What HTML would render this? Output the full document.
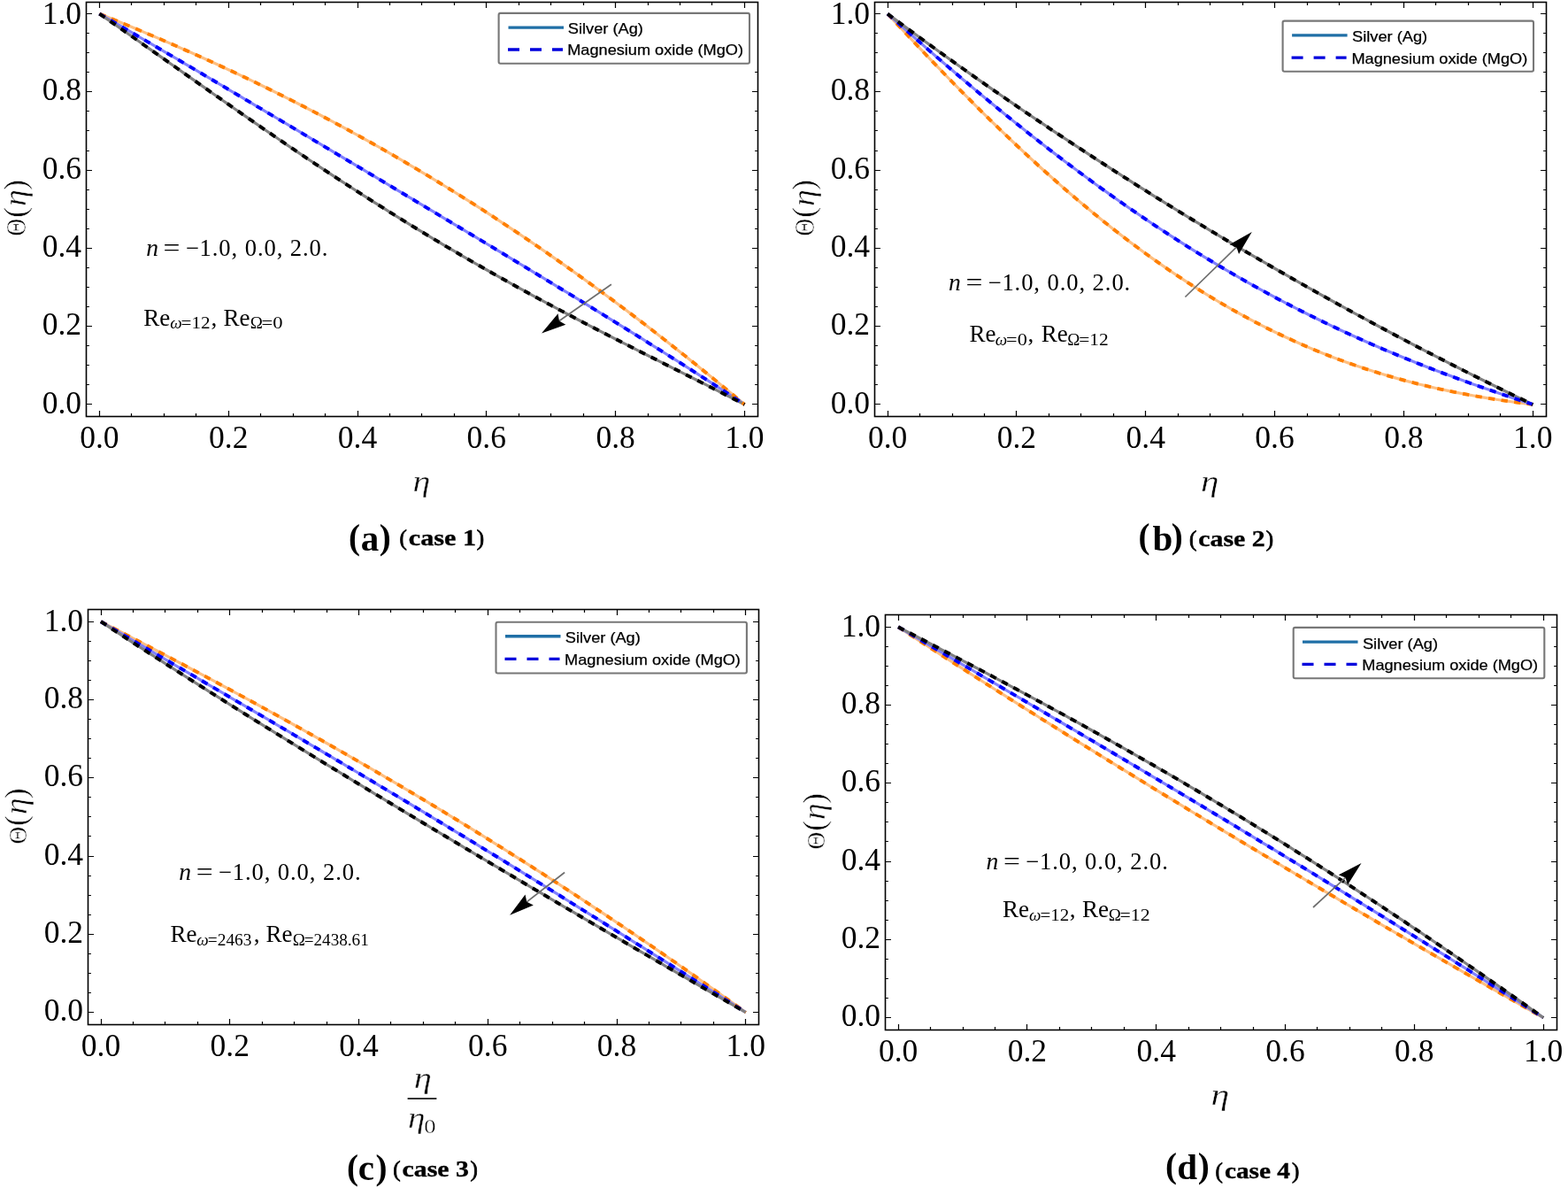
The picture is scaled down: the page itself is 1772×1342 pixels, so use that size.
<!DOCTYPE html>
<html><head><meta charset="utf-8"><style>html,body{margin:0;padding:0;background:#fff;width:1772px;height:1342px;overflow:hidden}svg{display:block}</style></head><body>
<svg width="1772" height="1342" viewBox="0 0 1772 1342">
<style>text{font-family:'Liberation Serif', 'Times New Roman', serif;fill:#000;font-kerning:none}.tl{font-size:35.5px}.lgt{stroke:#000;stroke-width:0.25px}.thin text{stroke:#fff;stroke-width:0.55px}.thin2 text{stroke:#fff;stroke-width:0.4px}</style>
<rect width="1772" height="1342" fill="#fff"/>
<path d="M112.5,470.5v-6.5M112.5,2.5v6.5M97.5,456.5h6.5M856.5,456.5h-6.5M148.5,470.5v-3.4M148.5,2.5v3.4M97.5,434.5h3.4M856.5,434.5h-3.4M185.5,470.5v-3.4M185.5,2.5v3.4M97.5,412.5h3.4M856.5,412.5h-3.4M221.5,470.5v-3.4M221.5,2.5v3.4M97.5,390.5h3.4M856.5,390.5h-3.4M258.5,470.5v-6.5M258.5,2.5v6.5M97.5,368.5h6.5M856.5,368.5h-6.5M294.5,470.5v-3.4M294.5,2.5v3.4M97.5,346.5h3.4M856.5,346.5h-3.4M331.5,470.5v-3.4M331.5,2.5v3.4M97.5,324.5h3.4M856.5,324.5h-3.4M367.5,470.5v-3.4M367.5,2.5v3.4M97.5,302.5h3.4M856.5,302.5h-3.4M404.5,470.5v-6.5M404.5,2.5v6.5M97.5,280.5h6.5M856.5,280.5h-6.5M440.5,470.5v-3.4M440.5,2.5v3.4M97.5,258.5h3.4M856.5,258.5h-3.4M476.5,470.5v-3.4M476.5,2.5v3.4M97.5,236.5h3.4M856.5,236.5h-3.4M513.5,470.5v-3.4M513.5,2.5v3.4M97.5,214.5h3.4M856.5,214.5h-3.4M549.5,470.5v-6.5M549.5,2.5v6.5M97.5,192.5h6.5M856.5,192.5h-6.5M586.5,470.5v-3.4M586.5,2.5v3.4M97.5,170.5h3.4M856.5,170.5h-3.4M622.5,470.5v-3.4M622.5,2.5v3.4M97.5,147.5h3.4M856.5,147.5h-3.4M659.5,470.5v-3.4M659.5,2.5v3.4M97.5,125.5h3.4M856.5,125.5h-3.4M695.5,470.5v-6.5M695.5,2.5v6.5M97.5,103.5h6.5M856.5,103.5h-6.5M732.5,470.5v-3.4M732.5,2.5v3.4M97.5,81.5h3.4M856.5,81.5h-3.4M768.5,470.5v-3.4M768.5,2.5v3.4M97.5,59.5h3.4M804.5,470.5v-3.4M804.5,2.5v3.4M97.5,37.5h3.4M841.5,470.5v-6.5M841.5,2.5v6.5M97.5,15.5h6.5" stroke="#000" stroke-width="1.2" fill="none"/>
<path d="M112.4,15.6 L118.48,18.06 L124.55,20.53 L130.62,23.01 L136.7,25.5 L142.78,28.01 L148.85,30.54 L154.93,33.07 L161,35.63 L167.07,38.19 L173.15,40.78 L179.22,43.38 L185.3,45.99 L191.38,48.62 L197.45,51.27 L203.53,53.93 L209.6,56.61 L215.68,59.31 L221.75,62.02 L227.82,64.75 L233.9,67.5 L239.97,70.27 L246.05,73.06 L252.13,75.86 L258.2,78.69 L264.27,81.53 L270.35,84.39 L276.43,87.28 L282.5,90.18 L288.58,93.1 L294.65,96.04 L300.73,99 L306.8,101.99 L312.88,104.99 L318.95,108.01 L325.02,111.06 L331.1,114.13 L337.18,117.21 L343.25,120.32 L349.33,123.46 L355.4,126.61 L361.48,129.78 L367.55,132.98 L373.62,136.2 L379.7,139.45 L385.77,142.71 L391.85,146 L397.92,149.31 L404,152.65 L410.08,156.01 L416.15,159.39 L422.23,162.79 L428.3,166.22 L434.38,169.67 L440.45,173.15 L446.52,176.65 L452.6,180.17 L458.67,183.72 L464.75,187.3 L470.82,190.89 L476.9,194.51 L482.98,198.16 L489.05,201.83 L495.12,205.52 L501.2,209.24 L507.27,212.99 L513.35,216.76 L519.43,220.55 L525.5,224.37 L531.57,228.21 L537.65,232.08 L543.73,235.97 L549.8,239.89 L555.88,243.83 L561.95,247.8 L568.02,251.8 L574.1,255.82 L580.18,259.86 L586.25,263.93 L592.33,268.02 L598.4,272.14 L604.48,276.28 L610.55,280.45 L616.62,284.65 L622.7,288.87 L628.77,293.11 L634.85,297.38 L640.92,301.67 L647,305.99 L653.08,310.34 L659.15,314.71 L665.22,319.1 L671.3,323.52 L677.38,327.96 L683.45,332.43 L689.52,336.92 L695.6,341.43 L701.67,345.98 L707.75,350.54 L713.82,355.13 L719.9,359.74 L725.98,364.38 L732.05,369.04 L738.12,373.73 L744.2,378.43 L750.27,383.17 L756.35,387.92 L762.43,392.7 L768.5,397.5 L774.57,402.33 L780.65,407.18 L786.73,412.05 L792.8,416.95 L798.88,421.86 L804.95,426.8 L811.02,431.76 L817.1,436.75 L823.17,441.75 L829.25,446.78 L835.33,451.83 L841.4,456.9" stroke="#ffbf80" stroke-width="3.2" fill="none" stroke-linejoin="round"/>
<path d="M112.4,15.6 L118.48,19.1 L124.55,22.62 L130.62,26.13 L136.7,29.66 L142.78,33.18 L148.85,36.72 L154.93,40.26 L161,43.8 L167.07,47.35 L173.15,50.9 L179.22,54.46 L185.3,58.02 L191.38,61.59 L197.45,65.16 L203.53,68.73 L209.6,72.31 L215.68,75.88 L221.75,79.47 L227.82,83.05 L233.9,86.64 L239.97,90.23 L246.05,93.83 L252.13,97.42 L258.2,101.02 L264.27,104.62 L270.35,108.23 L276.43,111.83 L282.5,115.44 L288.58,119.05 L294.65,122.66 L300.73,126.27 L306.8,129.88 L312.88,133.5 L318.95,137.11 L325.02,140.73 L331.1,144.35 L337.18,147.97 L343.25,151.59 L349.33,155.21 L355.4,158.83 L361.48,162.46 L367.55,166.08 L373.62,169.71 L379.7,173.33 L385.77,176.96 L391.85,180.59 L397.92,184.22 L404,187.84 L410.08,191.47 L416.15,195.11 L422.23,198.74 L428.3,202.37 L434.38,206 L440.45,209.64 L446.52,213.27 L452.6,216.91 L458.67,220.54 L464.75,224.18 L470.82,227.82 L476.9,231.46 L482.98,235.1 L489.05,238.74 L495.12,242.39 L501.2,246.03 L507.27,249.68 L513.35,253.32 L519.43,256.97 L525.5,260.62 L531.57,264.28 L537.65,267.93 L543.73,271.59 L549.8,275.25 L555.88,278.91 L561.95,282.57 L568.02,286.24 L574.1,289.91 L580.18,293.58 L586.25,297.25 L592.33,300.93 L598.4,304.61 L604.48,308.29 L610.55,311.98 L616.62,315.67 L622.7,319.37 L628.77,323.07 L634.85,326.77 L640.92,330.48 L647,334.19 L653.08,337.91 L659.15,341.63 L665.22,345.36 L671.3,349.09 L677.38,352.83 L683.45,356.58 L689.52,360.33 L695.6,364.09 L701.67,367.85 L707.75,371.62 L713.82,375.4 L719.9,379.19 L725.98,382.98 L732.05,386.78 L738.12,390.59 L744.2,394.41 L750.27,398.24 L756.35,402.07 L762.43,405.92 L768.5,409.77 L774.57,413.64 L780.65,417.51 L786.73,421.4 L792.8,425.3 L798.88,429.2 L804.95,433.12 L811.02,437.05 L817.1,441 L823.17,444.95 L829.25,448.92 L835.33,452.9 L841.4,456.9" stroke="#8080ff" stroke-width="3.2" fill="none" stroke-linejoin="round"/>
<path d="M112.4,15.6 L118.48,19.81 L124.55,24.03 L130.62,28.26 L136.7,32.5 L142.78,36.75 L148.85,41.01 L154.93,45.27 L161,49.54 L167.07,53.82 L173.15,58.1 L179.22,62.38 L185.3,66.67 L191.38,70.95 L197.45,75.24 L203.53,79.53 L209.6,83.82 L215.68,88.1 L221.75,92.38 L227.82,96.66 L233.9,100.93 L239.97,105.2 L246.05,109.47 L252.13,113.72 L258.2,117.97 L264.27,122.22 L270.35,126.45 L276.43,130.67 L282.5,134.89 L288.58,139.09 L294.65,143.29 L300.73,147.47 L306.8,151.64 L312.88,155.8 L318.95,159.95 L325.02,164.08 L331.1,168.2 L337.18,172.3 L343.25,176.39 L349.33,180.46 L355.4,184.52 L361.48,188.57 L367.55,192.59 L373.62,196.6 L379.7,200.59 L385.77,204.57 L391.85,208.53 L397.92,212.47 L404,216.39 L410.08,220.29 L416.15,224.18 L422.23,228.04 L428.3,231.89 L434.38,235.72 L440.45,239.53 L446.52,243.32 L452.6,247.09 L458.67,250.84 L464.75,254.57 L470.82,258.28 L476.9,261.98 L482.98,265.65 L489.05,269.3 L495.12,272.93 L501.2,276.55 L507.27,280.14 L513.35,283.71 L519.43,287.27 L525.5,290.8 L531.57,294.32 L537.65,297.82 L543.73,301.3 L549.8,304.76 L555.88,308.2 L561.95,311.62 L568.02,315.02 L574.1,318.41 L580.18,321.78 L586.25,325.13 L592.33,328.47 L598.4,331.79 L604.48,335.09 L610.55,338.38 L616.62,341.65 L622.7,344.9 L628.77,348.15 L634.85,351.37 L640.92,354.59 L647,357.79 L653.08,360.97 L659.15,364.15 L665.22,367.31 L671.3,370.46 L677.38,373.6 L683.45,376.73 L689.52,379.86 L695.6,382.97 L701.67,386.07 L707.75,389.17 L713.82,392.26 L719.9,395.34 L725.98,398.42 L732.05,401.49 L738.12,404.56 L744.2,407.62 L750.27,410.69 L756.35,413.75 L762.43,416.81 L768.5,419.87 L774.57,422.93 L780.65,425.99 L786.73,429.05 L792.8,432.12 L798.88,435.19 L804.95,438.27 L811.02,441.36 L817.1,444.45 L823.17,447.54 L829.25,450.65 L835.33,453.77 L841.4,456.9" stroke="#808080" stroke-width="3.2" fill="none" stroke-linejoin="round"/>
<path d="M112.4,15.6 L118.48,18.06 L124.55,20.53 L130.62,23.01 L136.7,25.5 L142.78,28.01 L148.85,30.54 L154.93,33.07 L161,35.63 L167.07,38.19 L173.15,40.78 L179.22,43.38 L185.3,45.99 L191.38,48.62 L197.45,51.27 L203.53,53.93 L209.6,56.61 L215.68,59.31 L221.75,62.02 L227.82,64.75 L233.9,67.5 L239.97,70.27 L246.05,73.06 L252.13,75.86 L258.2,78.69 L264.27,81.53 L270.35,84.39 L276.43,87.28 L282.5,90.18 L288.58,93.1 L294.65,96.04 L300.73,99 L306.8,101.99 L312.88,104.99 L318.95,108.01 L325.02,111.06 L331.1,114.13 L337.18,117.21 L343.25,120.32 L349.33,123.46 L355.4,126.61 L361.48,129.78 L367.55,132.98 L373.62,136.2 L379.7,139.45 L385.77,142.71 L391.85,146 L397.92,149.31 L404,152.65 L410.08,156.01 L416.15,159.39 L422.23,162.79 L428.3,166.22 L434.38,169.67 L440.45,173.15 L446.52,176.65 L452.6,180.17 L458.67,183.72 L464.75,187.3 L470.82,190.89 L476.9,194.51 L482.98,198.16 L489.05,201.83 L495.12,205.52 L501.2,209.24 L507.27,212.99 L513.35,216.76 L519.43,220.55 L525.5,224.37 L531.57,228.21 L537.65,232.08 L543.73,235.97 L549.8,239.89 L555.88,243.83 L561.95,247.8 L568.02,251.8 L574.1,255.82 L580.18,259.86 L586.25,263.93 L592.33,268.02 L598.4,272.14 L604.48,276.28 L610.55,280.45 L616.62,284.65 L622.7,288.87 L628.77,293.11 L634.85,297.38 L640.92,301.67 L647,305.99 L653.08,310.34 L659.15,314.71 L665.22,319.1 L671.3,323.52 L677.38,327.96 L683.45,332.43 L689.52,336.92 L695.6,341.43 L701.67,345.98 L707.75,350.54 L713.82,355.13 L719.9,359.74 L725.98,364.38 L732.05,369.04 L738.12,373.73 L744.2,378.43 L750.27,383.17 L756.35,387.92 L762.43,392.7 L768.5,397.5 L774.57,402.33 L780.65,407.18 L786.73,412.05 L792.8,416.95 L798.88,421.86 L804.95,426.8 L811.02,431.76 L817.1,436.75 L823.17,441.75 L829.25,446.78 L835.33,451.83 L841.4,456.9" stroke="#ff7f00" stroke-width="3.9" fill="none" stroke-dasharray="7.3 7.4"/>
<path d="M112.4,15.6 L118.48,19.1 L124.55,22.62 L130.62,26.13 L136.7,29.66 L142.78,33.18 L148.85,36.72 L154.93,40.26 L161,43.8 L167.07,47.35 L173.15,50.9 L179.22,54.46 L185.3,58.02 L191.38,61.59 L197.45,65.16 L203.53,68.73 L209.6,72.31 L215.68,75.88 L221.75,79.47 L227.82,83.05 L233.9,86.64 L239.97,90.23 L246.05,93.83 L252.13,97.42 L258.2,101.02 L264.27,104.62 L270.35,108.23 L276.43,111.83 L282.5,115.44 L288.58,119.05 L294.65,122.66 L300.73,126.27 L306.8,129.88 L312.88,133.5 L318.95,137.11 L325.02,140.73 L331.1,144.35 L337.18,147.97 L343.25,151.59 L349.33,155.21 L355.4,158.83 L361.48,162.46 L367.55,166.08 L373.62,169.71 L379.7,173.33 L385.77,176.96 L391.85,180.59 L397.92,184.22 L404,187.84 L410.08,191.47 L416.15,195.11 L422.23,198.74 L428.3,202.37 L434.38,206 L440.45,209.64 L446.52,213.27 L452.6,216.91 L458.67,220.54 L464.75,224.18 L470.82,227.82 L476.9,231.46 L482.98,235.1 L489.05,238.74 L495.12,242.39 L501.2,246.03 L507.27,249.68 L513.35,253.32 L519.43,256.97 L525.5,260.62 L531.57,264.28 L537.65,267.93 L543.73,271.59 L549.8,275.25 L555.88,278.91 L561.95,282.57 L568.02,286.24 L574.1,289.91 L580.18,293.58 L586.25,297.25 L592.33,300.93 L598.4,304.61 L604.48,308.29 L610.55,311.98 L616.62,315.67 L622.7,319.37 L628.77,323.07 L634.85,326.77 L640.92,330.48 L647,334.19 L653.08,337.91 L659.15,341.63 L665.22,345.36 L671.3,349.09 L677.38,352.83 L683.45,356.58 L689.52,360.33 L695.6,364.09 L701.67,367.85 L707.75,371.62 L713.82,375.4 L719.9,379.19 L725.98,382.98 L732.05,386.78 L738.12,390.59 L744.2,394.41 L750.27,398.24 L756.35,402.07 L762.43,405.92 L768.5,409.77 L774.57,413.64 L780.65,417.51 L786.73,421.4 L792.8,425.3 L798.88,429.2 L804.95,433.12 L811.02,437.05 L817.1,441 L823.17,444.95 L829.25,448.92 L835.33,452.9 L841.4,456.9" stroke="#0000ff" stroke-width="3.9" fill="none" stroke-dasharray="7.3 7.4"/>
<path d="M112.4,15.6 L118.48,19.81 L124.55,24.03 L130.62,28.26 L136.7,32.5 L142.78,36.75 L148.85,41.01 L154.93,45.27 L161,49.54 L167.07,53.82 L173.15,58.1 L179.22,62.38 L185.3,66.67 L191.38,70.95 L197.45,75.24 L203.53,79.53 L209.6,83.82 L215.68,88.1 L221.75,92.38 L227.82,96.66 L233.9,100.93 L239.97,105.2 L246.05,109.47 L252.13,113.72 L258.2,117.97 L264.27,122.22 L270.35,126.45 L276.43,130.67 L282.5,134.89 L288.58,139.09 L294.65,143.29 L300.73,147.47 L306.8,151.64 L312.88,155.8 L318.95,159.95 L325.02,164.08 L331.1,168.2 L337.18,172.3 L343.25,176.39 L349.33,180.46 L355.4,184.52 L361.48,188.57 L367.55,192.59 L373.62,196.6 L379.7,200.59 L385.77,204.57 L391.85,208.53 L397.92,212.47 L404,216.39 L410.08,220.29 L416.15,224.18 L422.23,228.04 L428.3,231.89 L434.38,235.72 L440.45,239.53 L446.52,243.32 L452.6,247.09 L458.67,250.84 L464.75,254.57 L470.82,258.28 L476.9,261.98 L482.98,265.65 L489.05,269.3 L495.12,272.93 L501.2,276.55 L507.27,280.14 L513.35,283.71 L519.43,287.27 L525.5,290.8 L531.57,294.32 L537.65,297.82 L543.73,301.3 L549.8,304.76 L555.88,308.2 L561.95,311.62 L568.02,315.02 L574.1,318.41 L580.18,321.78 L586.25,325.13 L592.33,328.47 L598.4,331.79 L604.48,335.09 L610.55,338.38 L616.62,341.65 L622.7,344.9 L628.77,348.15 L634.85,351.37 L640.92,354.59 L647,357.79 L653.08,360.97 L659.15,364.15 L665.22,367.31 L671.3,370.46 L677.38,373.6 L683.45,376.73 L689.52,379.86 L695.6,382.97 L701.67,386.07 L707.75,389.17 L713.82,392.26 L719.9,395.34 L725.98,398.42 L732.05,401.49 L738.12,404.56 L744.2,407.62 L750.27,410.69 L756.35,413.75 L762.43,416.81 L768.5,419.87 L774.57,422.93 L780.65,425.99 L786.73,429.05 L792.8,432.12 L798.88,435.19 L804.95,438.27 L811.02,441.36 L817.1,444.45 L823.17,447.54 L829.25,450.65 L835.33,453.77 L841.4,456.9" stroke="#000000" stroke-width="3.9" fill="none" stroke-dasharray="7.3 7.4"/>
<rect x="97.5" y="2.5" width="759" height="468" fill="none" stroke="#000" stroke-width="1.6"/>
<text x="112.4" y="505.6" text-anchor="middle" class="tl">0.0</text>
<text x="92.1" y="466.5" text-anchor="end" class="tl">0.0</text>
<text x="258.2" y="505.6" text-anchor="middle" class="tl">0.2</text>
<text x="92.1" y="378.24" text-anchor="end" class="tl">0.2</text>
<text x="404" y="505.6" text-anchor="middle" class="tl">0.4</text>
<text x="92.1" y="289.98" text-anchor="end" class="tl">0.4</text>
<text x="549.8" y="505.6" text-anchor="middle" class="tl">0.6</text>
<text x="92.1" y="201.72" text-anchor="end" class="tl">0.6</text>
<text x="695.6" y="505.6" text-anchor="middle" class="tl">0.8</text>
<text x="92.1" y="113.46" text-anchor="end" class="tl">0.8</text>
<text x="841.4" y="505.6" text-anchor="middle" class="tl">1.0</text>
<text x="92.1" y="26.5" text-anchor="end" class="tl">1.0</text>
<rect x="563.6" y="14.9" width="283.4" height="56.8" rx="2" fill="#fff" stroke="#777" stroke-width="2.1"/>
<path d="M574.5,31.1h62.5" stroke="#1f6fa6" stroke-width="3.4"/>
<path d="M574,56h62" stroke="#0000dd" stroke-width="3.4" stroke-dasharray="13 12"/>
<text x="641.87" y="38.1" textLength="85.06" lengthAdjust="spacingAndGlyphs" style="font-family:'Liberation Sans', Arial, sans-serif;font-size:16.6px" class="lgt">Silver (Ag)</text>
<text x="641.21" y="62.1" textLength="198.82" lengthAdjust="spacingAndGlyphs" style="font-family:'Liberation Sans', Arial, sans-serif;font-size:16.6px" class="lgt">Magnesium oxide (MgO)</text>
<path d="M690.9,321.3L631.96,362.54" stroke="#6e6e6e" stroke-width="1.7"/>
<path d="M612,376.5L630.59,354.22L631.96,362.54L639.3,366.68Z" fill="#000"/>
<path d="M1003.5,470.5v-6.5M1003.5,2.5v6.5M988.5,456.5h6.5M1747.5,456.5h-6.5M1039.5,470.5v-3.4M1039.5,2.5v3.4M988.5,434.5h3.4M1747.5,434.5h-3.4M1076.5,470.5v-3.4M1076.5,2.5v3.4M988.5,412.5h3.4M1747.5,412.5h-3.4M1112.5,470.5v-3.4M1112.5,2.5v3.4M988.5,390.5h3.4M1747.5,390.5h-3.4M1148.5,470.5v-6.5M1148.5,2.5v6.5M988.5,368.5h6.5M1747.5,368.5h-6.5M1185.5,470.5v-3.4M1185.5,2.5v3.4M988.5,346.5h3.4M1747.5,346.5h-3.4M1221.5,470.5v-3.4M1221.5,2.5v3.4M988.5,324.5h3.4M1747.5,324.5h-3.4M1258.5,470.5v-3.4M1258.5,2.5v3.4M988.5,302.5h3.4M1747.5,302.5h-3.4M1294.5,470.5v-6.5M1294.5,2.5v6.5M988.5,280.5h6.5M1747.5,280.5h-6.5M1331.5,470.5v-3.4M1331.5,2.5v3.4M988.5,258.5h3.4M1747.5,258.5h-3.4M1367.5,470.5v-3.4M1367.5,2.5v3.4M988.5,236.5h3.4M1747.5,236.5h-3.4M1404.5,470.5v-3.4M1404.5,2.5v3.4M988.5,214.5h3.4M1747.5,214.5h-3.4M1440.5,470.5v-6.5M1440.5,2.5v6.5M988.5,192.5h6.5M1747.5,192.5h-6.5M1477.5,470.5v-3.4M1477.5,2.5v3.4M988.5,170.5h3.4M1747.5,170.5h-3.4M1513.5,470.5v-3.4M1513.5,2.5v3.4M988.5,147.5h3.4M1747.5,147.5h-3.4M1549.5,470.5v-3.4M1549.5,2.5v3.4M988.5,125.5h3.4M1747.5,125.5h-3.4M1586.5,470.5v-6.5M1586.5,2.5v6.5M988.5,103.5h6.5M1747.5,103.5h-6.5M1622.5,470.5v-3.4M1622.5,2.5v3.4M988.5,81.5h3.4M1747.5,81.5h-3.4M1659.5,470.5v-3.4M1659.5,2.5v3.4M988.5,59.5h3.4M1747.5,59.5h-3.4M1695.5,470.5v-3.4M1695.5,2.5v3.4M988.5,37.5h3.4M1747.5,37.5h-3.4M1732.5,470.5v-6.5M1732.5,2.5v6.5M988.5,15.5h6.5M1747.5,15.5h-6.5" stroke="#000" stroke-width="1.2" fill="none"/>
<path d="M1003.1,15.6 L1009.18,22.16 L1015.25,28.69 L1021.33,35.2 L1027.4,41.68 L1033.48,48.14 L1039.56,54.57 L1045.63,60.97 L1051.71,67.34 L1057.78,73.68 L1063.86,79.98 L1069.93,86.25 L1076.01,92.49 L1082.09,98.69 L1088.16,104.85 L1094.24,110.97 L1100.31,117.06 L1106.39,123.11 L1112.46,129.11 L1118.54,135.07 L1124.62,140.99 L1130.69,146.87 L1136.77,152.7 L1142.84,158.49 L1148.92,164.23 L1155,169.93 L1161.07,175.57 L1167.15,181.17 L1173.22,186.72 L1179.3,192.22 L1185.38,197.67 L1191.45,203.07 L1197.53,208.41 L1203.6,213.7 L1209.68,218.94 L1215.75,224.13 L1221.83,229.26 L1227.91,234.34 L1233.98,239.36 L1240.06,244.33 L1246.13,249.24 L1252.21,254.09 L1258.29,258.89 L1264.36,263.63 L1270.44,268.31 L1276.51,272.93 L1282.59,277.5 L1288.66,282 L1294.74,286.45 L1300.82,290.83 L1306.89,295.16 L1312.97,299.43 L1319.04,303.63 L1325.12,307.78 L1331.2,311.86 L1337.27,315.89 L1343.35,319.85 L1349.42,323.76 L1355.5,327.6 L1361.57,331.38 L1367.65,335.09 L1373.73,338.75 L1379.8,342.35 L1385.88,345.88 L1391.95,349.36 L1398.03,352.77 L1404.11,356.12 L1410.18,359.41 L1416.26,362.64 L1422.33,365.81 L1428.41,368.92 L1434.48,371.96 L1440.56,374.95 L1446.64,377.88 L1452.71,380.75 L1458.79,383.56 L1464.86,386.31 L1470.94,389 L1477.02,391.63 L1483.09,394.2 L1489.17,396.72 L1495.24,399.18 L1501.32,401.58 L1507.39,403.92 L1513.47,406.21 L1519.55,408.44 L1525.62,410.62 L1531.7,412.75 L1537.77,414.82 L1543.85,416.83 L1549.93,418.79 L1556,420.71 L1562.08,422.57 L1568.15,424.37 L1574.23,426.13 L1580.3,427.84 L1586.38,429.5 L1592.46,431.11 L1598.53,432.68 L1604.61,434.19 L1610.68,435.67 L1616.76,437.09 L1622.84,438.47 L1628.91,439.81 L1634.99,441.11 L1641.06,442.37 L1647.14,443.58 L1653.21,444.76 L1659.29,445.89 L1665.37,446.99 L1671.44,448.05 L1677.52,449.08 L1683.59,450.07 L1689.67,451.03 L1695.74,451.96 L1701.82,452.85 L1707.9,453.72 L1713.97,454.55 L1720.05,455.36 L1726.12,456.14 L1732.2,456.9" stroke="#ffbf80" stroke-width="3.2" fill="none" stroke-linejoin="round"/>
<path d="M1003.1,15.6 L1009.18,21.01 L1015.25,26.41 L1021.33,31.79 L1027.4,37.15 L1033.48,42.5 L1039.56,47.82 L1045.63,53.13 L1051.71,58.41 L1057.78,63.68 L1063.86,68.92 L1069.93,74.14 L1076.01,79.34 L1082.09,84.51 L1088.16,89.66 L1094.24,94.79 L1100.31,99.89 L1106.39,104.97 L1112.46,110.02 L1118.54,115.04 L1124.62,120.04 L1130.69,125.01 L1136.77,129.96 L1142.84,134.87 L1148.92,139.76 L1155,144.62 L1161.07,149.45 L1167.15,154.25 L1173.22,159.02 L1179.3,163.76 L1185.38,168.47 L1191.45,173.14 L1197.53,177.79 L1203.6,182.41 L1209.68,186.99 L1215.75,191.54 L1221.83,196.06 L1227.91,200.54 L1233.98,205 L1240.06,209.42 L1246.13,213.8 L1252.21,218.15 L1258.29,222.47 L1264.36,226.76 L1270.44,231.01 L1276.51,235.22 L1282.59,239.4 L1288.66,243.55 L1294.74,247.66 L1300.82,251.74 L1306.89,255.78 L1312.97,259.78 L1319.04,263.75 L1325.12,267.69 L1331.2,271.59 L1337.27,275.45 L1343.35,279.28 L1349.42,283.07 L1355.5,286.83 L1361.57,290.55 L1367.65,294.24 L1373.73,297.89 L1379.8,301.5 L1385.88,305.08 L1391.95,308.62 L1398.03,312.13 L1404.11,315.6 L1410.18,319.04 L1416.26,322.44 L1422.33,325.8 L1428.41,329.13 L1434.48,332.43 L1440.56,335.69 L1446.64,338.92 L1452.71,342.11 L1458.79,345.27 L1464.86,348.39 L1470.94,351.48 L1477.02,354.54 L1483.09,357.56 L1489.17,360.55 L1495.24,363.5 L1501.32,366.43 L1507.39,369.32 L1513.47,372.18 L1519.55,375 L1525.62,377.8 L1531.7,380.56 L1537.77,383.29 L1543.85,386 L1549.93,388.67 L1556,391.31 L1562.08,393.92 L1568.15,396.5 L1574.23,399.06 L1580.3,401.58 L1586.38,404.08 L1592.46,406.55 L1598.53,408.99 L1604.61,411.41 L1610.68,413.8 L1616.76,416.16 L1622.84,418.5 L1628.91,420.82 L1634.99,423.11 L1641.06,425.37 L1647.14,427.61 L1653.21,429.83 L1659.29,432.03 L1665.37,434.21 L1671.44,436.36 L1677.52,438.5 L1683.59,440.61 L1689.67,442.71 L1695.74,444.79 L1701.82,446.85 L1707.9,448.89 L1713.97,450.92 L1720.05,452.93 L1726.12,454.92 L1732.2,456.9" stroke="#8080ff" stroke-width="3.2" fill="none" stroke-linejoin="round"/>
<path d="M1003.1,15.6 L1009.18,20.13 L1015.25,24.64 L1021.33,29.14 L1027.4,33.62 L1033.48,38.08 L1039.56,42.53 L1045.63,46.96 L1051.71,51.37 L1057.78,55.77 L1063.86,60.15 L1069.93,64.51 L1076.01,68.86 L1082.09,73.2 L1088.16,77.52 L1094.24,81.82 L1100.31,86.11 L1106.39,90.38 L1112.46,94.63 L1118.54,98.87 L1124.62,103.1 L1130.69,107.31 L1136.77,111.5 L1142.84,115.68 L1148.92,119.85 L1155,124 L1161.07,128.13 L1167.15,132.25 L1173.22,136.36 L1179.3,140.45 L1185.38,144.53 L1191.45,148.59 L1197.53,152.64 L1203.6,156.67 L1209.68,160.69 L1215.75,164.69 L1221.83,168.68 L1227.91,172.66 L1233.98,176.62 L1240.06,180.57 L1246.13,184.5 L1252.21,188.42 L1258.29,192.32 L1264.36,196.22 L1270.44,200.09 L1276.51,203.96 L1282.59,207.81 L1288.66,211.65 L1294.74,215.47 L1300.82,219.28 L1306.89,223.07 L1312.97,226.86 L1319.04,230.63 L1325.12,234.38 L1331.2,238.12 L1337.27,241.85 L1343.35,245.57 L1349.42,249.27 L1355.5,252.96 L1361.57,256.64 L1367.65,260.3 L1373.73,263.95 L1379.8,267.59 L1385.88,271.21 L1391.95,274.82 L1398.03,278.42 L1404.11,282.01 L1410.18,285.58 L1416.26,289.14 L1422.33,292.68 L1428.41,296.22 L1434.48,299.74 L1440.56,303.25 L1446.64,306.74 L1452.71,310.22 L1458.79,313.69 L1464.86,317.15 L1470.94,320.6 L1477.02,324.03 L1483.09,327.45 L1489.17,330.85 L1495.24,334.25 L1501.32,337.63 L1507.39,341 L1513.47,344.36 L1519.55,347.7 L1525.62,351.03 L1531.7,354.35 L1537.77,357.66 L1543.85,360.95 L1549.93,364.23 L1556,367.5 L1562.08,370.76 L1568.15,374 L1574.23,377.24 L1580.3,380.46 L1586.38,383.66 L1592.46,386.86 L1598.53,390.04 L1604.61,393.21 L1610.68,396.37 L1616.76,399.51 L1622.84,402.64 L1628.91,405.77 L1634.99,408.87 L1641.06,411.97 L1647.14,415.05 L1653.21,418.12 L1659.29,421.18 L1665.37,424.22 L1671.44,427.26 L1677.52,430.28 L1683.59,433.29 L1689.67,436.28 L1695.74,439.27 L1701.82,442.24 L1707.9,445.19 L1713.97,448.14 L1720.05,451.07 L1726.12,453.99 L1732.2,456.9" stroke="#808080" stroke-width="3.2" fill="none" stroke-linejoin="round"/>
<path d="M1003.1,15.6 L1009.18,22.16 L1015.25,28.69 L1021.33,35.2 L1027.4,41.68 L1033.48,48.14 L1039.56,54.57 L1045.63,60.97 L1051.71,67.34 L1057.78,73.68 L1063.86,79.98 L1069.93,86.25 L1076.01,92.49 L1082.09,98.69 L1088.16,104.85 L1094.24,110.97 L1100.31,117.06 L1106.39,123.11 L1112.46,129.11 L1118.54,135.07 L1124.62,140.99 L1130.69,146.87 L1136.77,152.7 L1142.84,158.49 L1148.92,164.23 L1155,169.93 L1161.07,175.57 L1167.15,181.17 L1173.22,186.72 L1179.3,192.22 L1185.38,197.67 L1191.45,203.07 L1197.53,208.41 L1203.6,213.7 L1209.68,218.94 L1215.75,224.13 L1221.83,229.26 L1227.91,234.34 L1233.98,239.36 L1240.06,244.33 L1246.13,249.24 L1252.21,254.09 L1258.29,258.89 L1264.36,263.63 L1270.44,268.31 L1276.51,272.93 L1282.59,277.5 L1288.66,282 L1294.74,286.45 L1300.82,290.83 L1306.89,295.16 L1312.97,299.43 L1319.04,303.63 L1325.12,307.78 L1331.2,311.86 L1337.27,315.89 L1343.35,319.85 L1349.42,323.76 L1355.5,327.6 L1361.57,331.38 L1367.65,335.09 L1373.73,338.75 L1379.8,342.35 L1385.88,345.88 L1391.95,349.36 L1398.03,352.77 L1404.11,356.12 L1410.18,359.41 L1416.26,362.64 L1422.33,365.81 L1428.41,368.92 L1434.48,371.96 L1440.56,374.95 L1446.64,377.88 L1452.71,380.75 L1458.79,383.56 L1464.86,386.31 L1470.94,389 L1477.02,391.63 L1483.09,394.2 L1489.17,396.72 L1495.24,399.18 L1501.32,401.58 L1507.39,403.92 L1513.47,406.21 L1519.55,408.44 L1525.62,410.62 L1531.7,412.75 L1537.77,414.82 L1543.85,416.83 L1549.93,418.79 L1556,420.71 L1562.08,422.57 L1568.15,424.37 L1574.23,426.13 L1580.3,427.84 L1586.38,429.5 L1592.46,431.11 L1598.53,432.68 L1604.61,434.19 L1610.68,435.67 L1616.76,437.09 L1622.84,438.47 L1628.91,439.81 L1634.99,441.11 L1641.06,442.37 L1647.14,443.58 L1653.21,444.76 L1659.29,445.89 L1665.37,446.99 L1671.44,448.05 L1677.52,449.08 L1683.59,450.07 L1689.67,451.03 L1695.74,451.96 L1701.82,452.85 L1707.9,453.72 L1713.97,454.55 L1720.05,455.36 L1726.12,456.14 L1732.2,456.9" stroke="#ff7f00" stroke-width="3.9" fill="none" stroke-dasharray="7.3 7.4"/>
<path d="M1003.1,15.6 L1009.18,21.01 L1015.25,26.41 L1021.33,31.79 L1027.4,37.15 L1033.48,42.5 L1039.56,47.82 L1045.63,53.13 L1051.71,58.41 L1057.78,63.68 L1063.86,68.92 L1069.93,74.14 L1076.01,79.34 L1082.09,84.51 L1088.16,89.66 L1094.24,94.79 L1100.31,99.89 L1106.39,104.97 L1112.46,110.02 L1118.54,115.04 L1124.62,120.04 L1130.69,125.01 L1136.77,129.96 L1142.84,134.87 L1148.92,139.76 L1155,144.62 L1161.07,149.45 L1167.15,154.25 L1173.22,159.02 L1179.3,163.76 L1185.38,168.47 L1191.45,173.14 L1197.53,177.79 L1203.6,182.41 L1209.68,186.99 L1215.75,191.54 L1221.83,196.06 L1227.91,200.54 L1233.98,205 L1240.06,209.42 L1246.13,213.8 L1252.21,218.15 L1258.29,222.47 L1264.36,226.76 L1270.44,231.01 L1276.51,235.22 L1282.59,239.4 L1288.66,243.55 L1294.74,247.66 L1300.82,251.74 L1306.89,255.78 L1312.97,259.78 L1319.04,263.75 L1325.12,267.69 L1331.2,271.59 L1337.27,275.45 L1343.35,279.28 L1349.42,283.07 L1355.5,286.83 L1361.57,290.55 L1367.65,294.24 L1373.73,297.89 L1379.8,301.5 L1385.88,305.08 L1391.95,308.62 L1398.03,312.13 L1404.11,315.6 L1410.18,319.04 L1416.26,322.44 L1422.33,325.8 L1428.41,329.13 L1434.48,332.43 L1440.56,335.69 L1446.64,338.92 L1452.71,342.11 L1458.79,345.27 L1464.86,348.39 L1470.94,351.48 L1477.02,354.54 L1483.09,357.56 L1489.17,360.55 L1495.24,363.5 L1501.32,366.43 L1507.39,369.32 L1513.47,372.18 L1519.55,375 L1525.62,377.8 L1531.7,380.56 L1537.77,383.29 L1543.85,386 L1549.93,388.67 L1556,391.31 L1562.08,393.92 L1568.15,396.5 L1574.23,399.06 L1580.3,401.58 L1586.38,404.08 L1592.46,406.55 L1598.53,408.99 L1604.61,411.41 L1610.68,413.8 L1616.76,416.16 L1622.84,418.5 L1628.91,420.82 L1634.99,423.11 L1641.06,425.37 L1647.14,427.61 L1653.21,429.83 L1659.29,432.03 L1665.37,434.21 L1671.44,436.36 L1677.52,438.5 L1683.59,440.61 L1689.67,442.71 L1695.74,444.79 L1701.82,446.85 L1707.9,448.89 L1713.97,450.92 L1720.05,452.93 L1726.12,454.92 L1732.2,456.9" stroke="#0000ff" stroke-width="3.9" fill="none" stroke-dasharray="7.3 7.4"/>
<path d="M1003.1,15.6 L1009.18,20.13 L1015.25,24.64 L1021.33,29.14 L1027.4,33.62 L1033.48,38.08 L1039.56,42.53 L1045.63,46.96 L1051.71,51.37 L1057.78,55.77 L1063.86,60.15 L1069.93,64.51 L1076.01,68.86 L1082.09,73.2 L1088.16,77.52 L1094.24,81.82 L1100.31,86.11 L1106.39,90.38 L1112.46,94.63 L1118.54,98.87 L1124.62,103.1 L1130.69,107.31 L1136.77,111.5 L1142.84,115.68 L1148.92,119.85 L1155,124 L1161.07,128.13 L1167.15,132.25 L1173.22,136.36 L1179.3,140.45 L1185.38,144.53 L1191.45,148.59 L1197.53,152.64 L1203.6,156.67 L1209.68,160.69 L1215.75,164.69 L1221.83,168.68 L1227.91,172.66 L1233.98,176.62 L1240.06,180.57 L1246.13,184.5 L1252.21,188.42 L1258.29,192.32 L1264.36,196.22 L1270.44,200.09 L1276.51,203.96 L1282.59,207.81 L1288.66,211.65 L1294.74,215.47 L1300.82,219.28 L1306.89,223.07 L1312.97,226.86 L1319.04,230.63 L1325.12,234.38 L1331.2,238.12 L1337.27,241.85 L1343.35,245.57 L1349.42,249.27 L1355.5,252.96 L1361.57,256.64 L1367.65,260.3 L1373.73,263.95 L1379.8,267.59 L1385.88,271.21 L1391.95,274.82 L1398.03,278.42 L1404.11,282.01 L1410.18,285.58 L1416.26,289.14 L1422.33,292.68 L1428.41,296.22 L1434.48,299.74 L1440.56,303.25 L1446.64,306.74 L1452.71,310.22 L1458.79,313.69 L1464.86,317.15 L1470.94,320.6 L1477.02,324.03 L1483.09,327.45 L1489.17,330.85 L1495.24,334.25 L1501.32,337.63 L1507.39,341 L1513.47,344.36 L1519.55,347.7 L1525.62,351.03 L1531.7,354.35 L1537.77,357.66 L1543.85,360.95 L1549.93,364.23 L1556,367.5 L1562.08,370.76 L1568.15,374 L1574.23,377.24 L1580.3,380.46 L1586.38,383.66 L1592.46,386.86 L1598.53,390.04 L1604.61,393.21 L1610.68,396.37 L1616.76,399.51 L1622.84,402.64 L1628.91,405.77 L1634.99,408.87 L1641.06,411.97 L1647.14,415.05 L1653.21,418.12 L1659.29,421.18 L1665.37,424.22 L1671.44,427.26 L1677.52,430.28 L1683.59,433.29 L1689.67,436.28 L1695.74,439.27 L1701.82,442.24 L1707.9,445.19 L1713.97,448.14 L1720.05,451.07 L1726.12,453.99 L1732.2,456.9" stroke="#000000" stroke-width="3.9" fill="none" stroke-dasharray="7.3 7.4"/>
<rect x="988.5" y="2.5" width="759" height="468" fill="none" stroke="#000" stroke-width="1.6"/>
<text x="1003.1" y="505.6" text-anchor="middle" class="tl">0.0</text>
<text x="983.1" y="466.5" text-anchor="end" class="tl">0.0</text>
<text x="1148.92" y="505.6" text-anchor="middle" class="tl">0.2</text>
<text x="983.1" y="378.24" text-anchor="end" class="tl">0.2</text>
<text x="1294.74" y="505.6" text-anchor="middle" class="tl">0.4</text>
<text x="983.1" y="289.98" text-anchor="end" class="tl">0.4</text>
<text x="1440.56" y="505.6" text-anchor="middle" class="tl">0.6</text>
<text x="983.1" y="201.72" text-anchor="end" class="tl">0.6</text>
<text x="1586.38" y="505.6" text-anchor="middle" class="tl">0.8</text>
<text x="983.1" y="113.46" text-anchor="end" class="tl">0.8</text>
<text x="1732.2" y="505.6" text-anchor="middle" class="tl">1.0</text>
<text x="983.1" y="26.5" text-anchor="end" class="tl">1.0</text>
<rect x="1449.6" y="23.6" width="283.4" height="57.2" rx="2" fill="#fff" stroke="#777" stroke-width="2.1"/>
<path d="M1460.1,39.9h62.5" stroke="#1f6fa6" stroke-width="3.4"/>
<path d="M1459.6,65.1h62" stroke="#0000dd" stroke-width="3.4" stroke-dasharray="13 12"/>
<text x="1528.07" y="47.2" textLength="85.06" lengthAdjust="spacingAndGlyphs" style="font-family:'Liberation Sans', Arial, sans-serif;font-size:16.6px" class="lgt">Silver (Ag)</text>
<text x="1527.41" y="71.7" textLength="198.82" lengthAdjust="spacingAndGlyphs" style="font-family:'Liberation Sans', Arial, sans-serif;font-size:16.6px" class="lgt">Magnesium oxide (MgO)</text>
<path d="M1339.4,335.5L1397.34,279.09" stroke="#6e6e6e" stroke-width="1.7"/>
<path d="M1414.8,262.1L1400.04,287.08L1397.34,279.09L1389.44,276.19Z" fill="#000"/>
<path d="M114.5,1157.5v-6.5M114.5,688.5v6.5M99.5,1143.5h6.5M857.5,1143.5h-6.5M150.5,1157.5v-3.4M150.5,688.5v3.4M99.5,1121.5h3.4M857.5,1121.5h-3.4M186.5,1157.5v-3.4M186.5,688.5v3.4M99.5,1099.5h3.4M857.5,1099.5h-3.4M223.5,1157.5v-3.4M223.5,688.5v3.4M99.5,1077.5h3.4M857.5,1077.5h-3.4M259.5,1157.5v-6.5M259.5,688.5v6.5M99.5,1055.5h6.5M857.5,1055.5h-6.5M296.5,1157.5v-3.4M296.5,688.5v3.4M99.5,1033.5h3.4M857.5,1033.5h-3.4M332.5,1157.5v-3.4M332.5,688.5v3.4M99.5,1011.5h3.4M857.5,1011.5h-3.4M369.5,1157.5v-3.4M369.5,688.5v3.4M99.5,989.5h3.4M857.5,989.5h-3.4M405.5,1157.5v-6.5M405.5,688.5v6.5M99.5,967.5h6.5M857.5,967.5h-6.5M441.5,1157.5v-3.4M441.5,688.5v3.4M99.5,944.5h3.4M857.5,944.5h-3.4M478.5,1157.5v-3.4M478.5,688.5v3.4M99.5,922.5h3.4M857.5,922.5h-3.4M514.5,1157.5v-3.4M514.5,688.5v3.4M99.5,900.5h3.4M857.5,900.5h-3.4M551.5,1157.5v-6.5M551.5,688.5v6.5M99.5,878.5h6.5M857.5,878.5h-6.5M587.5,1157.5v-3.4M587.5,688.5v3.4M99.5,856.5h3.4M857.5,856.5h-3.4M624.5,1157.5v-3.4M624.5,688.5v3.4M99.5,834.5h3.4M857.5,834.5h-3.4M660.5,1157.5v-3.4M660.5,688.5v3.4M99.5,812.5h3.4M857.5,812.5h-3.4M697.5,1157.5v-6.5M697.5,688.5v6.5M99.5,790.5h6.5M857.5,790.5h-6.5M733.5,1157.5v-3.4M733.5,688.5v3.4M99.5,768.5h3.4M857.5,768.5h-3.4M769.5,1157.5v-3.4M769.5,688.5v3.4M99.5,746.5h3.4M857.5,746.5h-3.4M806.5,1157.5v-3.4M806.5,688.5v3.4M99.5,724.5h3.4M857.5,724.5h-3.4M842.5,1157.5v-6.5M842.5,688.5v6.5M99.5,702.5h6.5M857.5,702.5h-6.5" stroke="#000" stroke-width="1.2" fill="none"/>
<path d="M114,702.2 L120.07,705.33 L126.15,708.47 L132.22,711.62 L138.29,714.77 L144.37,717.92 L150.44,721.08 L156.51,724.24 L162.59,727.41 L168.66,730.59 L174.73,733.77 L180.81,736.96 L186.88,740.15 L192.95,743.35 L199.03,746.56 L205.1,749.77 L211.17,752.99 L217.25,756.22 L223.32,759.45 L229.39,762.69 L235.47,765.94 L241.54,769.19 L247.61,772.46 L253.69,775.73 L259.76,779.01 L265.83,782.29 L271.91,785.59 L277.98,788.89 L284.05,792.2 L290.13,795.52 L296.2,798.85 L302.27,802.19 L308.35,805.53 L314.42,808.89 L320.49,812.25 L326.57,815.62 L332.64,819.01 L338.71,822.4 L344.79,825.8 L350.86,829.21 L356.93,832.63 L363.01,836.06 L369.08,839.5 L375.15,842.95 L381.23,846.41 L387.3,849.88 L393.37,853.36 L399.45,856.86 L405.52,860.36 L411.59,863.87 L417.67,867.39 L423.74,870.93 L429.81,874.47 L435.89,878.03 L441.96,881.6 L448.03,885.17 L454.11,888.76 L460.18,892.36 L466.25,895.97 L472.33,899.6 L478.4,903.23 L484.47,906.88 L490.55,910.54 L496.62,914.2 L502.69,917.88 L508.77,921.58 L514.84,925.28 L520.91,929 L526.99,932.72 L533.06,936.46 L539.13,940.22 L545.21,943.98 L551.28,947.76 L557.35,951.54 L563.43,955.34 L569.5,959.16 L575.57,962.98 L581.65,966.82 L587.72,970.67 L593.79,974.53 L599.87,978.4 L605.94,982.29 L612.01,986.19 L618.09,990.1 L624.16,994.02 L630.23,997.96 L636.31,1001.91 L642.38,1005.87 L648.45,1009.84 L654.53,1013.83 L660.6,1017.83 L666.67,1021.84 L672.75,1025.86 L678.82,1029.9 L684.89,1033.95 L690.97,1038.01 L697.04,1042.08 L703.11,1046.17 L709.19,1050.27 L715.26,1054.38 L721.33,1058.5 L727.41,1062.64 L733.48,1066.79 L739.55,1070.95 L745.63,1075.13 L751.7,1079.31 L757.77,1083.51 L763.85,1087.72 L769.92,1091.95 L775.99,1096.19 L782.07,1100.43 L788.14,1104.7 L794.21,1108.97 L800.29,1113.26 L806.36,1117.55 L812.43,1121.87 L818.51,1126.19 L824.58,1130.52 L830.65,1134.87 L836.73,1139.23 L842.8,1143.6" stroke="#ffbf80" stroke-width="3.2" fill="none" stroke-linejoin="round"/>
<path d="M114,702.2 L120.07,705.77 L126.15,709.34 L132.22,712.9 L138.29,716.47 L144.37,720.03 L150.44,723.59 L156.51,727.14 L162.59,730.7 L168.66,734.25 L174.73,737.8 L180.81,741.36 L186.88,744.91 L192.95,748.46 L199.03,752.01 L205.1,755.55 L211.17,759.1 L217.25,762.65 L223.32,766.2 L229.39,769.75 L235.47,773.3 L241.54,776.85 L247.61,780.41 L253.69,783.96 L259.76,787.51 L265.83,791.07 L271.91,794.63 L277.98,798.19 L284.05,801.75 L290.13,805.31 L296.2,808.87 L302.27,812.44 L308.35,816.01 L314.42,819.58 L320.49,823.15 L326.57,826.73 L332.64,830.31 L338.71,833.89 L344.79,837.47 L350.86,841.06 L356.93,844.65 L363.01,848.25 L369.08,851.84 L375.15,855.44 L381.23,859.05 L387.3,862.65 L393.37,866.26 L399.45,869.88 L405.52,873.5 L411.59,877.12 L417.67,880.74 L423.74,884.37 L429.81,888.01 L435.89,891.64 L441.96,895.28 L448.03,898.93 L454.11,902.58 L460.18,906.23 L466.25,909.89 L472.33,913.55 L478.4,917.22 L484.47,920.89 L490.55,924.56 L496.62,928.24 L502.69,931.92 L508.77,935.61 L514.84,939.3 L520.91,943 L526.99,946.7 L533.06,950.4 L539.13,954.11 L545.21,957.82 L551.28,961.54 L557.35,965.26 L563.43,968.98 L569.5,972.71 L575.57,976.44 L581.65,980.18 L587.72,983.92 L593.79,987.67 L599.87,991.42 L605.94,995.17 L612.01,998.93 L618.09,1002.69 L624.16,1006.45 L630.23,1010.22 L636.31,1013.99 L642.38,1017.76 L648.45,1021.54 L654.53,1025.32 L660.6,1029.11 L666.67,1032.89 L672.75,1036.68 L678.82,1040.48 L684.89,1044.27 L690.97,1048.07 L697.04,1051.88 L703.11,1055.68 L709.19,1059.49 L715.26,1063.3 L721.33,1067.11 L727.41,1070.92 L733.48,1074.74 L739.55,1078.56 L745.63,1082.38 L751.7,1086.2 L757.77,1090.02 L763.85,1093.84 L769.92,1097.67 L775.99,1101.49 L782.07,1105.32 L788.14,1109.15 L794.21,1112.98 L800.29,1116.8 L806.36,1120.63 L812.43,1124.46 L818.51,1128.29 L824.58,1132.12 L830.65,1135.95 L836.73,1139.77 L842.8,1143.6" stroke="#8080ff" stroke-width="3.2" fill="none" stroke-linejoin="round"/>
<path d="M114,702.2 L120.07,706.2 L126.15,710.19 L132.22,714.17 L138.29,718.14 L144.37,722.11 L150.44,726.06 L156.51,730 L162.59,733.94 L168.66,737.86 L174.73,741.78 L180.81,745.69 L186.88,749.6 L192.95,753.49 L199.03,757.38 L205.1,761.25 L211.17,765.12 L217.25,768.99 L223.32,772.84 L229.39,776.69 L235.47,780.53 L241.54,784.37 L247.61,788.2 L253.69,792.02 L259.76,795.83 L265.83,799.64 L271.91,803.44 L277.98,807.24 L284.05,811.03 L290.13,814.81 L296.2,818.59 L302.27,822.36 L308.35,826.13 L314.42,829.89 L320.49,833.65 L326.57,837.4 L332.64,841.14 L338.71,844.88 L344.79,848.62 L350.86,852.35 L356.93,856.07 L363.01,859.8 L369.08,863.51 L375.15,867.22 L381.23,870.93 L387.3,874.64 L393.37,878.33 L399.45,882.03 L405.52,885.72 L411.59,889.41 L417.67,893.09 L423.74,896.77 L429.81,900.44 L435.89,904.11 L441.96,907.78 L448.03,911.45 L454.11,915.11 L460.18,918.76 L466.25,922.42 L472.33,926.07 L478.4,929.72 L484.47,933.36 L490.55,937 L496.62,940.64 L502.69,944.27 L508.77,947.91 L514.84,951.53 L520.91,955.16 L526.99,958.78 L533.06,962.4 L539.13,966.02 L545.21,969.63 L551.28,973.25 L557.35,976.85 L563.43,980.46 L569.5,984.06 L575.57,987.67 L581.65,991.26 L587.72,994.86 L593.79,998.45 L599.87,1002.04 L605.94,1005.63 L612.01,1009.22 L618.09,1012.8 L624.16,1016.38 L630.23,1019.96 L636.31,1023.54 L642.38,1027.11 L648.45,1030.68 L654.53,1034.25 L660.6,1037.82 L666.67,1041.38 L672.75,1044.94 L678.82,1048.5 L684.89,1052.06 L690.97,1055.61 L697.04,1059.16 L703.11,1062.71 L709.19,1066.26 L715.26,1069.8 L721.33,1073.35 L727.41,1076.88 L733.48,1080.42 L739.55,1083.95 L745.63,1087.49 L751.7,1091.01 L757.77,1094.54 L763.85,1098.06 L769.92,1101.58 L775.99,1105.1 L782.07,1108.62 L788.14,1112.13 L794.21,1115.64 L800.29,1119.14 L806.36,1122.65 L812.43,1126.15 L818.51,1129.64 L824.58,1133.14 L830.65,1136.63 L836.73,1140.12 L842.8,1143.6" stroke="#808080" stroke-width="3.2" fill="none" stroke-linejoin="round"/>
<path d="M114,702.2 L120.07,705.33 L126.15,708.47 L132.22,711.62 L138.29,714.77 L144.37,717.92 L150.44,721.08 L156.51,724.24 L162.59,727.41 L168.66,730.59 L174.73,733.77 L180.81,736.96 L186.88,740.15 L192.95,743.35 L199.03,746.56 L205.1,749.77 L211.17,752.99 L217.25,756.22 L223.32,759.45 L229.39,762.69 L235.47,765.94 L241.54,769.19 L247.61,772.46 L253.69,775.73 L259.76,779.01 L265.83,782.29 L271.91,785.59 L277.98,788.89 L284.05,792.2 L290.13,795.52 L296.2,798.85 L302.27,802.19 L308.35,805.53 L314.42,808.89 L320.49,812.25 L326.57,815.62 L332.64,819.01 L338.71,822.4 L344.79,825.8 L350.86,829.21 L356.93,832.63 L363.01,836.06 L369.08,839.5 L375.15,842.95 L381.23,846.41 L387.3,849.88 L393.37,853.36 L399.45,856.86 L405.52,860.36 L411.59,863.87 L417.67,867.39 L423.74,870.93 L429.81,874.47 L435.89,878.03 L441.96,881.6 L448.03,885.17 L454.11,888.76 L460.18,892.36 L466.25,895.97 L472.33,899.6 L478.4,903.23 L484.47,906.88 L490.55,910.54 L496.62,914.2 L502.69,917.88 L508.77,921.58 L514.84,925.28 L520.91,929 L526.99,932.72 L533.06,936.46 L539.13,940.22 L545.21,943.98 L551.28,947.76 L557.35,951.54 L563.43,955.34 L569.5,959.16 L575.57,962.98 L581.65,966.82 L587.72,970.67 L593.79,974.53 L599.87,978.4 L605.94,982.29 L612.01,986.19 L618.09,990.1 L624.16,994.02 L630.23,997.96 L636.31,1001.91 L642.38,1005.87 L648.45,1009.84 L654.53,1013.83 L660.6,1017.83 L666.67,1021.84 L672.75,1025.86 L678.82,1029.9 L684.89,1033.95 L690.97,1038.01 L697.04,1042.08 L703.11,1046.17 L709.19,1050.27 L715.26,1054.38 L721.33,1058.5 L727.41,1062.64 L733.48,1066.79 L739.55,1070.95 L745.63,1075.13 L751.7,1079.31 L757.77,1083.51 L763.85,1087.72 L769.92,1091.95 L775.99,1096.19 L782.07,1100.43 L788.14,1104.7 L794.21,1108.97 L800.29,1113.26 L806.36,1117.55 L812.43,1121.87 L818.51,1126.19 L824.58,1130.52 L830.65,1134.87 L836.73,1139.23 L842.8,1143.6" stroke="#ff7f00" stroke-width="3.9" fill="none" stroke-dasharray="7.3 7.4"/>
<path d="M114,702.2 L120.07,705.77 L126.15,709.34 L132.22,712.9 L138.29,716.47 L144.37,720.03 L150.44,723.59 L156.51,727.14 L162.59,730.7 L168.66,734.25 L174.73,737.8 L180.81,741.36 L186.88,744.91 L192.95,748.46 L199.03,752.01 L205.1,755.55 L211.17,759.1 L217.25,762.65 L223.32,766.2 L229.39,769.75 L235.47,773.3 L241.54,776.85 L247.61,780.41 L253.69,783.96 L259.76,787.51 L265.83,791.07 L271.91,794.63 L277.98,798.19 L284.05,801.75 L290.13,805.31 L296.2,808.87 L302.27,812.44 L308.35,816.01 L314.42,819.58 L320.49,823.15 L326.57,826.73 L332.64,830.31 L338.71,833.89 L344.79,837.47 L350.86,841.06 L356.93,844.65 L363.01,848.25 L369.08,851.84 L375.15,855.44 L381.23,859.05 L387.3,862.65 L393.37,866.26 L399.45,869.88 L405.52,873.5 L411.59,877.12 L417.67,880.74 L423.74,884.37 L429.81,888.01 L435.89,891.64 L441.96,895.28 L448.03,898.93 L454.11,902.58 L460.18,906.23 L466.25,909.89 L472.33,913.55 L478.4,917.22 L484.47,920.89 L490.55,924.56 L496.62,928.24 L502.69,931.92 L508.77,935.61 L514.84,939.3 L520.91,943 L526.99,946.7 L533.06,950.4 L539.13,954.11 L545.21,957.82 L551.28,961.54 L557.35,965.26 L563.43,968.98 L569.5,972.71 L575.57,976.44 L581.65,980.18 L587.72,983.92 L593.79,987.67 L599.87,991.42 L605.94,995.17 L612.01,998.93 L618.09,1002.69 L624.16,1006.45 L630.23,1010.22 L636.31,1013.99 L642.38,1017.76 L648.45,1021.54 L654.53,1025.32 L660.6,1029.11 L666.67,1032.89 L672.75,1036.68 L678.82,1040.48 L684.89,1044.27 L690.97,1048.07 L697.04,1051.88 L703.11,1055.68 L709.19,1059.49 L715.26,1063.3 L721.33,1067.11 L727.41,1070.92 L733.48,1074.74 L739.55,1078.56 L745.63,1082.38 L751.7,1086.2 L757.77,1090.02 L763.85,1093.84 L769.92,1097.67 L775.99,1101.49 L782.07,1105.32 L788.14,1109.15 L794.21,1112.98 L800.29,1116.8 L806.36,1120.63 L812.43,1124.46 L818.51,1128.29 L824.58,1132.12 L830.65,1135.95 L836.73,1139.77 L842.8,1143.6" stroke="#0000ff" stroke-width="3.9" fill="none" stroke-dasharray="7.3 7.4"/>
<path d="M114,702.2 L120.07,706.2 L126.15,710.19 L132.22,714.17 L138.29,718.14 L144.37,722.11 L150.44,726.06 L156.51,730 L162.59,733.94 L168.66,737.86 L174.73,741.78 L180.81,745.69 L186.88,749.6 L192.95,753.49 L199.03,757.38 L205.1,761.25 L211.17,765.12 L217.25,768.99 L223.32,772.84 L229.39,776.69 L235.47,780.53 L241.54,784.37 L247.61,788.2 L253.69,792.02 L259.76,795.83 L265.83,799.64 L271.91,803.44 L277.98,807.24 L284.05,811.03 L290.13,814.81 L296.2,818.59 L302.27,822.36 L308.35,826.13 L314.42,829.89 L320.49,833.65 L326.57,837.4 L332.64,841.14 L338.71,844.88 L344.79,848.62 L350.86,852.35 L356.93,856.07 L363.01,859.8 L369.08,863.51 L375.15,867.22 L381.23,870.93 L387.3,874.64 L393.37,878.33 L399.45,882.03 L405.52,885.72 L411.59,889.41 L417.67,893.09 L423.74,896.77 L429.81,900.44 L435.89,904.11 L441.96,907.78 L448.03,911.45 L454.11,915.11 L460.18,918.76 L466.25,922.42 L472.33,926.07 L478.4,929.72 L484.47,933.36 L490.55,937 L496.62,940.64 L502.69,944.27 L508.77,947.91 L514.84,951.53 L520.91,955.16 L526.99,958.78 L533.06,962.4 L539.13,966.02 L545.21,969.63 L551.28,973.25 L557.35,976.85 L563.43,980.46 L569.5,984.06 L575.57,987.67 L581.65,991.26 L587.72,994.86 L593.79,998.45 L599.87,1002.04 L605.94,1005.63 L612.01,1009.22 L618.09,1012.8 L624.16,1016.38 L630.23,1019.96 L636.31,1023.54 L642.38,1027.11 L648.45,1030.68 L654.53,1034.25 L660.6,1037.82 L666.67,1041.38 L672.75,1044.94 L678.82,1048.5 L684.89,1052.06 L690.97,1055.61 L697.04,1059.16 L703.11,1062.71 L709.19,1066.26 L715.26,1069.8 L721.33,1073.35 L727.41,1076.88 L733.48,1080.42 L739.55,1083.95 L745.63,1087.49 L751.7,1091.01 L757.77,1094.54 L763.85,1098.06 L769.92,1101.58 L775.99,1105.1 L782.07,1108.62 L788.14,1112.13 L794.21,1115.64 L800.29,1119.14 L806.36,1122.65 L812.43,1126.15 L818.51,1129.64 L824.58,1133.14 L830.65,1136.63 L836.73,1140.12 L842.8,1143.6" stroke="#000000" stroke-width="3.9" fill="none" stroke-dasharray="7.3 7.4"/>
<rect x="99.5" y="688.5" width="758" height="469" fill="none" stroke="#000" stroke-width="1.6"/>
<text x="114" y="1192.6" text-anchor="middle" class="tl">0.0</text>
<text x="94.1" y="1153.2" text-anchor="end" class="tl">0.0</text>
<text x="259.76" y="1192.6" text-anchor="middle" class="tl">0.2</text>
<text x="94.1" y="1064.92" text-anchor="end" class="tl">0.2</text>
<text x="405.52" y="1192.6" text-anchor="middle" class="tl">0.4</text>
<text x="94.1" y="976.64" text-anchor="end" class="tl">0.4</text>
<text x="551.28" y="1192.6" text-anchor="middle" class="tl">0.6</text>
<text x="94.1" y="888.36" text-anchor="end" class="tl">0.6</text>
<text x="697.04" y="1192.6" text-anchor="middle" class="tl">0.8</text>
<text x="94.1" y="800.08" text-anchor="end" class="tl">0.8</text>
<text x="842.8" y="1192.6" text-anchor="middle" class="tl">1.0</text>
<text x="94.1" y="713.1" text-anchor="end" class="tl">1.0</text>
<rect x="560.5" y="702.7" width="283.4" height="57.8" rx="2" fill="#fff" stroke="#777" stroke-width="2.1"/>
<path d="M571,718.8h62.5" stroke="#1f6fa6" stroke-width="3.4"/>
<path d="M570.5,744.4h62" stroke="#0000dd" stroke-width="3.4" stroke-dasharray="13 12"/>
<text x="638.77" y="726.4" textLength="85.06" lengthAdjust="spacingAndGlyphs" style="font-family:'Liberation Sans', Arial, sans-serif;font-size:16.6px" class="lgt">Silver (Ag)</text>
<text x="638.11" y="750.9" textLength="198.82" lengthAdjust="spacingAndGlyphs" style="font-family:'Liberation Sans', Arial, sans-serif;font-size:16.6px" class="lgt">Magnesium oxide (MgO)</text>
<path d="M638.1,985.5L595.32,1018.83" stroke="#6e6e6e" stroke-width="1.7"/>
<path d="M576.1,1033.8L593.52,1010.6L595.32,1018.83L602.86,1022.59Z" fill="#000"/>
<path d="M1015.5,1163.5v-6.5M1015.5,694.5v6.5M1000.5,1149.5h6.5M1759.5,1149.5h-6.5M1051.5,1163.5v-3.4M1051.5,694.5v3.4M1000.5,1127.5h3.4M1759.5,1127.5h-3.4M1088.5,1163.5v-3.4M1088.5,694.5v3.4M1000.5,1105.5h3.4M1759.5,1105.5h-3.4M1124.5,1163.5v-3.4M1124.5,694.5v3.4M1000.5,1083.5h3.4M1759.5,1083.5h-3.4M1160.5,1163.5v-6.5M1160.5,694.5v6.5M1000.5,1061.5h6.5M1759.5,1061.5h-6.5M1197.5,1163.5v-3.4M1197.5,694.5v3.4M1000.5,1039.5h3.4M1759.5,1039.5h-3.4M1233.5,1163.5v-3.4M1233.5,694.5v3.4M1000.5,1017.5h3.4M1759.5,1017.5h-3.4M1270.5,1163.5v-3.4M1270.5,694.5v3.4M1000.5,995.5h3.4M1759.5,995.5h-3.4M1306.5,1163.5v-6.5M1306.5,694.5v6.5M1000.5,973.5h6.5M1759.5,973.5h-6.5M1343.5,1163.5v-3.4M1343.5,694.5v3.4M1000.5,950.5h3.4M1759.5,950.5h-3.4M1379.5,1163.5v-3.4M1379.5,694.5v3.4M1000.5,928.5h3.4M1759.5,928.5h-3.4M1416.5,1163.5v-3.4M1416.5,694.5v3.4M1000.5,906.5h3.4M1759.5,906.5h-3.4M1452.5,1163.5v-6.5M1452.5,694.5v6.5M1000.5,884.5h6.5M1759.5,884.5h-6.5M1488.5,1163.5v-3.4M1488.5,694.5v3.4M1000.5,862.5h3.4M1759.5,862.5h-3.4M1525.5,1163.5v-3.4M1525.5,694.5v3.4M1000.5,840.5h3.4M1759.5,840.5h-3.4M1561.5,1163.5v-3.4M1561.5,694.5v3.4M1000.5,818.5h3.4M1759.5,818.5h-3.4M1598.5,1163.5v-6.5M1598.5,694.5v6.5M1000.5,796.5h6.5M1759.5,796.5h-6.5M1634.5,1163.5v-3.4M1634.5,694.5v3.4M1000.5,774.5h3.4M1759.5,774.5h-3.4M1671.5,1163.5v-3.4M1671.5,694.5v3.4M1000.5,752.5h3.4M1759.5,752.5h-3.4M1707.5,1163.5v-3.4M1707.5,694.5v3.4M1000.5,730.5h3.4M1759.5,730.5h-3.4M1744.5,1163.5v-6.5M1744.5,694.5v6.5M1000.5,708.5h6.5M1759.5,708.5h-6.5" stroke="#000" stroke-width="1.2" fill="none"/>
<path d="M1015.1,708.25 L1021.18,712.22 L1027.25,716.18 L1033.33,720.14 L1039.4,724.09 L1045.47,728.03 L1051.55,731.97 L1057.62,735.9 L1063.7,739.83 L1069.78,743.75 L1075.85,747.66 L1081.92,751.57 L1088,755.47 L1094.08,759.36 L1100.15,763.25 L1106.22,767.13 L1112.3,771.01 L1118.38,774.88 L1124.45,778.75 L1130.53,782.61 L1136.6,786.47 L1142.67,790.32 L1148.75,794.16 L1154.83,798 L1160.9,801.83 L1166.97,805.66 L1173.05,809.48 L1179.12,813.3 L1185.2,817.11 L1191.28,820.92 L1197.35,824.72 L1203.42,828.52 L1209.5,832.31 L1215.58,836.1 L1221.65,839.88 L1227.72,843.66 L1233.8,847.43 L1239.88,851.2 L1245.95,854.97 L1252.03,858.72 L1258.1,862.48 L1264.17,866.23 L1270.25,869.97 L1276.33,873.71 L1282.4,877.45 L1288.47,881.18 L1294.55,884.91 L1300.62,888.63 L1306.7,892.35 L1312.78,896.06 L1318.85,899.77 L1324.92,903.47 L1331,907.17 L1337.08,910.87 L1343.15,914.56 L1349.22,918.25 L1355.3,921.93 L1361.38,925.61 L1367.45,929.29 L1373.53,932.96 L1379.6,936.63 L1385.67,940.29 L1391.75,943.95 L1397.83,947.6 L1403.9,951.25 L1409.97,954.9 L1416.05,958.54 L1422.12,962.18 L1428.2,965.82 L1434.28,969.45 L1440.35,973.07 L1446.42,976.7 L1452.5,980.32 L1458.58,983.93 L1464.65,987.54 L1470.72,991.15 L1476.8,994.76 L1482.88,998.36 L1488.95,1001.95 L1495.03,1005.54 L1501.1,1009.13 L1507.18,1012.72 L1513.25,1016.3 L1519.33,1019.88 L1525.4,1023.45 L1531.47,1027.02 L1537.55,1030.58 L1543.62,1034.15 L1549.7,1037.7 L1555.78,1041.26 L1561.85,1044.81 L1567.92,1048.36 L1574,1051.9 L1580.08,1055.44 L1586.15,1058.98 L1592.22,1062.51 L1598.3,1066.04 L1604.38,1069.56 L1610.45,1073.08 L1616.53,1076.6 L1622.6,1080.11 L1628.68,1083.62 L1634.75,1087.12 L1640.82,1090.63 L1646.9,1094.12 L1652.97,1097.62 L1659.05,1101.11 L1665.12,1104.59 L1671.2,1108.07 L1677.28,1111.55 L1683.35,1115.03 L1689.43,1118.5 L1695.5,1121.96 L1701.58,1125.43 L1707.65,1128.88 L1713.72,1132.34 L1719.8,1135.79 L1725.88,1139.24 L1731.95,1142.68 L1738.03,1146.12 L1744.1,1149.55" stroke="#ffbf80" stroke-width="3.2" fill="none" stroke-linejoin="round"/>
<path d="M1015.1,708.25 L1021.18,711.8 L1027.25,715.35 L1033.33,718.9 L1039.4,722.45 L1045.47,726 L1051.55,729.55 L1057.62,733.1 L1063.7,736.65 L1069.78,740.2 L1075.85,743.75 L1081.92,747.3 L1088,750.85 L1094.08,754.4 L1100.15,757.95 L1106.22,761.5 L1112.3,765.05 L1118.38,768.61 L1124.45,772.16 L1130.53,775.72 L1136.6,779.27 L1142.67,782.83 L1148.75,786.39 L1154.83,789.95 L1160.9,793.51 L1166.97,797.08 L1173.05,800.64 L1179.12,804.21 L1185.2,807.78 L1191.28,811.35 L1197.35,814.92 L1203.42,818.5 L1209.5,822.08 L1215.58,825.66 L1221.65,829.24 L1227.72,832.82 L1233.8,836.41 L1239.88,840 L1245.95,843.59 L1252.03,847.19 L1258.1,850.78 L1264.17,854.38 L1270.25,857.99 L1276.33,861.59 L1282.4,865.2 L1288.47,868.81 L1294.55,872.43 L1300.62,876.04 L1306.7,879.66 L1312.78,883.29 L1318.85,886.91 L1324.92,890.54 L1331,894.18 L1337.08,897.81 L1343.15,901.45 L1349.22,905.1 L1355.3,908.75 L1361.38,912.4 L1367.45,916.05 L1373.53,919.71 L1379.6,923.37 L1385.67,927.03 L1391.75,930.7 L1397.83,934.37 L1403.9,938.05 L1409.97,941.73 L1416.05,945.41 L1422.12,949.09 L1428.2,952.78 L1434.28,956.48 L1440.35,960.18 L1446.42,963.88 L1452.5,967.58 L1458.58,971.29 L1464.65,975 L1470.72,978.72 L1476.8,982.44 L1482.88,986.16 L1488.95,989.89 L1495.03,993.62 L1501.1,997.36 L1507.18,1001.09 L1513.25,1004.84 L1519.33,1008.58 L1525.4,1012.33 L1531.47,1016.09 L1537.55,1019.84 L1543.62,1023.6 L1549.7,1027.37 L1555.78,1031.14 L1561.85,1034.91 L1567.92,1038.68 L1574,1042.46 L1580.08,1046.24 L1586.15,1050.03 L1592.22,1053.82 L1598.3,1057.61 L1604.38,1061.41 L1610.45,1065.21 L1616.53,1069.01 L1622.6,1072.81 L1628.68,1076.62 L1634.75,1080.44 L1640.82,1084.25 L1646.9,1088.07 L1652.97,1091.89 L1659.05,1095.72 L1665.12,1099.54 L1671.2,1103.37 L1677.28,1107.21 L1683.35,1111.04 L1689.43,1114.88 L1695.5,1118.73 L1701.58,1122.57 L1707.65,1126.42 L1713.72,1130.27 L1719.8,1134.12 L1725.88,1137.97 L1731.95,1141.83 L1738.03,1145.69 L1744.1,1149.55" stroke="#8080ff" stroke-width="3.2" fill="none" stroke-linejoin="round"/>
<path d="M1015.1,708.25 L1021.18,711.41 L1027.25,714.56 L1033.33,717.72 L1039.4,720.89 L1045.47,724.05 L1051.55,727.22 L1057.62,730.39 L1063.7,733.57 L1069.78,736.75 L1075.85,739.94 L1081.92,743.12 L1088,746.32 L1094.08,749.52 L1100.15,752.72 L1106.22,755.93 L1112.3,759.15 L1118.38,762.37 L1124.45,765.6 L1130.53,768.83 L1136.6,772.07 L1142.67,775.32 L1148.75,778.57 L1154.83,781.84 L1160.9,785.11 L1166.97,788.38 L1173.05,791.67 L1179.12,794.96 L1185.2,798.26 L1191.28,801.57 L1197.35,804.89 L1203.42,808.22 L1209.5,811.56 L1215.58,814.9 L1221.65,818.26 L1227.72,821.63 L1233.8,825 L1239.88,828.39 L1245.95,831.78 L1252.03,835.19 L1258.1,838.6 L1264.17,842.03 L1270.25,845.46 L1276.33,848.91 L1282.4,852.37 L1288.47,855.84 L1294.55,859.32 L1300.62,862.81 L1306.7,866.31 L1312.78,869.82 L1318.85,873.35 L1324.92,876.88 L1331,880.43 L1337.08,883.99 L1343.15,887.56 L1349.22,891.14 L1355.3,894.74 L1361.38,898.35 L1367.45,901.96 L1373.53,905.6 L1379.6,909.24 L1385.67,912.89 L1391.75,916.56 L1397.83,920.24 L1403.9,923.94 L1409.97,927.64 L1416.05,931.36 L1422.12,935.09 L1428.2,938.83 L1434.28,942.58 L1440.35,946.35 L1446.42,950.13 L1452.5,953.92 L1458.58,957.73 L1464.65,961.54 L1470.72,965.37 L1476.8,969.21 L1482.88,973.07 L1488.95,976.93 L1495.03,980.81 L1501.1,984.7 L1507.18,988.61 L1513.25,992.52 L1519.33,996.45 L1525.4,1000.39 L1531.47,1004.34 L1537.55,1008.31 L1543.62,1012.28 L1549.7,1016.27 L1555.78,1020.27 L1561.85,1024.28 L1567.92,1028.3 L1574,1032.34 L1580.08,1036.38 L1586.15,1040.44 L1592.22,1044.51 L1598.3,1048.59 L1604.38,1052.68 L1610.45,1056.79 L1616.53,1060.9 L1622.6,1065.02 L1628.68,1069.16 L1634.75,1073.3 L1640.82,1077.46 L1646.9,1081.62 L1652.97,1085.8 L1659.05,1089.99 L1665.12,1094.18 L1671.2,1098.39 L1677.28,1102.6 L1683.35,1106.83 L1689.43,1111.06 L1695.5,1115.3 L1701.58,1119.56 L1707.65,1123.82 L1713.72,1128.09 L1719.8,1132.36 L1725.88,1136.65 L1731.95,1140.94 L1738.03,1145.24 L1744.1,1149.55" stroke="#808080" stroke-width="3.2" fill="none" stroke-linejoin="round"/>
<path d="M1015.1,708.25 L1021.18,712.22 L1027.25,716.18 L1033.33,720.14 L1039.4,724.09 L1045.47,728.03 L1051.55,731.97 L1057.62,735.9 L1063.7,739.83 L1069.78,743.75 L1075.85,747.66 L1081.92,751.57 L1088,755.47 L1094.08,759.36 L1100.15,763.25 L1106.22,767.13 L1112.3,771.01 L1118.38,774.88 L1124.45,778.75 L1130.53,782.61 L1136.6,786.47 L1142.67,790.32 L1148.75,794.16 L1154.83,798 L1160.9,801.83 L1166.97,805.66 L1173.05,809.48 L1179.12,813.3 L1185.2,817.11 L1191.28,820.92 L1197.35,824.72 L1203.42,828.52 L1209.5,832.31 L1215.58,836.1 L1221.65,839.88 L1227.72,843.66 L1233.8,847.43 L1239.88,851.2 L1245.95,854.97 L1252.03,858.72 L1258.1,862.48 L1264.17,866.23 L1270.25,869.97 L1276.33,873.71 L1282.4,877.45 L1288.47,881.18 L1294.55,884.91 L1300.62,888.63 L1306.7,892.35 L1312.78,896.06 L1318.85,899.77 L1324.92,903.47 L1331,907.17 L1337.08,910.87 L1343.15,914.56 L1349.22,918.25 L1355.3,921.93 L1361.38,925.61 L1367.45,929.29 L1373.53,932.96 L1379.6,936.63 L1385.67,940.29 L1391.75,943.95 L1397.83,947.6 L1403.9,951.25 L1409.97,954.9 L1416.05,958.54 L1422.12,962.18 L1428.2,965.82 L1434.28,969.45 L1440.35,973.07 L1446.42,976.7 L1452.5,980.32 L1458.58,983.93 L1464.65,987.54 L1470.72,991.15 L1476.8,994.76 L1482.88,998.36 L1488.95,1001.95 L1495.03,1005.54 L1501.1,1009.13 L1507.18,1012.72 L1513.25,1016.3 L1519.33,1019.88 L1525.4,1023.45 L1531.47,1027.02 L1537.55,1030.58 L1543.62,1034.15 L1549.7,1037.7 L1555.78,1041.26 L1561.85,1044.81 L1567.92,1048.36 L1574,1051.9 L1580.08,1055.44 L1586.15,1058.98 L1592.22,1062.51 L1598.3,1066.04 L1604.38,1069.56 L1610.45,1073.08 L1616.53,1076.6 L1622.6,1080.11 L1628.68,1083.62 L1634.75,1087.12 L1640.82,1090.63 L1646.9,1094.12 L1652.97,1097.62 L1659.05,1101.11 L1665.12,1104.59 L1671.2,1108.07 L1677.28,1111.55 L1683.35,1115.03 L1689.43,1118.5 L1695.5,1121.96 L1701.58,1125.43 L1707.65,1128.88 L1713.72,1132.34 L1719.8,1135.79 L1725.88,1139.24 L1731.95,1142.68 L1738.03,1146.12 L1744.1,1149.55" stroke="#ff7f00" stroke-width="3.9" fill="none" stroke-dasharray="7.3 7.4"/>
<path d="M1015.1,708.25 L1021.18,711.8 L1027.25,715.35 L1033.33,718.9 L1039.4,722.45 L1045.47,726 L1051.55,729.55 L1057.62,733.1 L1063.7,736.65 L1069.78,740.2 L1075.85,743.75 L1081.92,747.3 L1088,750.85 L1094.08,754.4 L1100.15,757.95 L1106.22,761.5 L1112.3,765.05 L1118.38,768.61 L1124.45,772.16 L1130.53,775.72 L1136.6,779.27 L1142.67,782.83 L1148.75,786.39 L1154.83,789.95 L1160.9,793.51 L1166.97,797.08 L1173.05,800.64 L1179.12,804.21 L1185.2,807.78 L1191.28,811.35 L1197.35,814.92 L1203.42,818.5 L1209.5,822.08 L1215.58,825.66 L1221.65,829.24 L1227.72,832.82 L1233.8,836.41 L1239.88,840 L1245.95,843.59 L1252.03,847.19 L1258.1,850.78 L1264.17,854.38 L1270.25,857.99 L1276.33,861.59 L1282.4,865.2 L1288.47,868.81 L1294.55,872.43 L1300.62,876.04 L1306.7,879.66 L1312.78,883.29 L1318.85,886.91 L1324.92,890.54 L1331,894.18 L1337.08,897.81 L1343.15,901.45 L1349.22,905.1 L1355.3,908.75 L1361.38,912.4 L1367.45,916.05 L1373.53,919.71 L1379.6,923.37 L1385.67,927.03 L1391.75,930.7 L1397.83,934.37 L1403.9,938.05 L1409.97,941.73 L1416.05,945.41 L1422.12,949.09 L1428.2,952.78 L1434.28,956.48 L1440.35,960.18 L1446.42,963.88 L1452.5,967.58 L1458.58,971.29 L1464.65,975 L1470.72,978.72 L1476.8,982.44 L1482.88,986.16 L1488.95,989.89 L1495.03,993.62 L1501.1,997.36 L1507.18,1001.09 L1513.25,1004.84 L1519.33,1008.58 L1525.4,1012.33 L1531.47,1016.09 L1537.55,1019.84 L1543.62,1023.6 L1549.7,1027.37 L1555.78,1031.14 L1561.85,1034.91 L1567.92,1038.68 L1574,1042.46 L1580.08,1046.24 L1586.15,1050.03 L1592.22,1053.82 L1598.3,1057.61 L1604.38,1061.41 L1610.45,1065.21 L1616.53,1069.01 L1622.6,1072.81 L1628.68,1076.62 L1634.75,1080.44 L1640.82,1084.25 L1646.9,1088.07 L1652.97,1091.89 L1659.05,1095.72 L1665.12,1099.54 L1671.2,1103.37 L1677.28,1107.21 L1683.35,1111.04 L1689.43,1114.88 L1695.5,1118.73 L1701.58,1122.57 L1707.65,1126.42 L1713.72,1130.27 L1719.8,1134.12 L1725.88,1137.97 L1731.95,1141.83 L1738.03,1145.69 L1744.1,1149.55" stroke="#0000ff" stroke-width="3.9" fill="none" stroke-dasharray="7.3 7.4"/>
<path d="M1015.1,708.25 L1021.18,711.41 L1027.25,714.56 L1033.33,717.72 L1039.4,720.89 L1045.47,724.05 L1051.55,727.22 L1057.62,730.39 L1063.7,733.57 L1069.78,736.75 L1075.85,739.94 L1081.92,743.12 L1088,746.32 L1094.08,749.52 L1100.15,752.72 L1106.22,755.93 L1112.3,759.15 L1118.38,762.37 L1124.45,765.6 L1130.53,768.83 L1136.6,772.07 L1142.67,775.32 L1148.75,778.57 L1154.83,781.84 L1160.9,785.11 L1166.97,788.38 L1173.05,791.67 L1179.12,794.96 L1185.2,798.26 L1191.28,801.57 L1197.35,804.89 L1203.42,808.22 L1209.5,811.56 L1215.58,814.9 L1221.65,818.26 L1227.72,821.63 L1233.8,825 L1239.88,828.39 L1245.95,831.78 L1252.03,835.19 L1258.1,838.6 L1264.17,842.03 L1270.25,845.46 L1276.33,848.91 L1282.4,852.37 L1288.47,855.84 L1294.55,859.32 L1300.62,862.81 L1306.7,866.31 L1312.78,869.82 L1318.85,873.35 L1324.92,876.88 L1331,880.43 L1337.08,883.99 L1343.15,887.56 L1349.22,891.14 L1355.3,894.74 L1361.38,898.35 L1367.45,901.96 L1373.53,905.6 L1379.6,909.24 L1385.67,912.89 L1391.75,916.56 L1397.83,920.24 L1403.9,923.94 L1409.97,927.64 L1416.05,931.36 L1422.12,935.09 L1428.2,938.83 L1434.28,942.58 L1440.35,946.35 L1446.42,950.13 L1452.5,953.92 L1458.58,957.73 L1464.65,961.54 L1470.72,965.37 L1476.8,969.21 L1482.88,973.07 L1488.95,976.93 L1495.03,980.81 L1501.1,984.7 L1507.18,988.61 L1513.25,992.52 L1519.33,996.45 L1525.4,1000.39 L1531.47,1004.34 L1537.55,1008.31 L1543.62,1012.28 L1549.7,1016.27 L1555.78,1020.27 L1561.85,1024.28 L1567.92,1028.3 L1574,1032.34 L1580.08,1036.38 L1586.15,1040.44 L1592.22,1044.51 L1598.3,1048.59 L1604.38,1052.68 L1610.45,1056.79 L1616.53,1060.9 L1622.6,1065.02 L1628.68,1069.16 L1634.75,1073.3 L1640.82,1077.46 L1646.9,1081.62 L1652.97,1085.8 L1659.05,1089.99 L1665.12,1094.18 L1671.2,1098.39 L1677.28,1102.6 L1683.35,1106.83 L1689.43,1111.06 L1695.5,1115.3 L1701.58,1119.56 L1707.65,1123.82 L1713.72,1128.09 L1719.8,1132.36 L1725.88,1136.65 L1731.95,1140.94 L1738.03,1145.24 L1744.1,1149.55" stroke="#000000" stroke-width="3.9" fill="none" stroke-dasharray="7.3 7.4"/>
<rect x="1000.5" y="694.5" width="759" height="469" fill="none" stroke="#000" stroke-width="1.6"/>
<text x="1015.1" y="1198.6" text-anchor="middle" class="tl">0.0</text>
<text x="995.1" y="1159.15" text-anchor="end" class="tl">0.0</text>
<text x="1160.9" y="1198.6" text-anchor="middle" class="tl">0.2</text>
<text x="995.1" y="1070.89" text-anchor="end" class="tl">0.2</text>
<text x="1306.7" y="1198.6" text-anchor="middle" class="tl">0.4</text>
<text x="995.1" y="982.63" text-anchor="end" class="tl">0.4</text>
<text x="1452.5" y="1198.6" text-anchor="middle" class="tl">0.6</text>
<text x="995.1" y="894.37" text-anchor="end" class="tl">0.6</text>
<text x="1598.3" y="1198.6" text-anchor="middle" class="tl">0.8</text>
<text x="995.1" y="806.11" text-anchor="end" class="tl">0.8</text>
<text x="1744.1" y="1198.6" text-anchor="middle" class="tl">1.0</text>
<text x="995.1" y="719.15" text-anchor="end" class="tl">1.0</text>
<rect x="1461.7" y="708.9" width="283.6" height="57.4" rx="2" fill="#fff" stroke="#777" stroke-width="2.1"/>
<path d="M1472,725.1h62.5" stroke="#1f6fa6" stroke-width="3.4"/>
<path d="M1471.5,750.4h62" stroke="#0000dd" stroke-width="3.4" stroke-dasharray="13 12"/>
<text x="1539.97" y="732.7" textLength="85.06" lengthAdjust="spacingAndGlyphs" style="font-family:'Liberation Sans', Arial, sans-serif;font-size:16.6px" class="lgt">Silver (Ag)</text>
<text x="1539.31" y="757.3" textLength="198.82" lengthAdjust="spacingAndGlyphs" style="font-family:'Liberation Sans', Arial, sans-serif;font-size:16.6px" class="lgt">Magnesium oxide (MgO)</text>
<path d="M1484,1025L1520.57,991.39" stroke="#6e6e6e" stroke-width="1.7"/>
<path d="M1538.5,974.9L1523.03,999.44L1520.57,991.39L1512.74,988.25Z" fill="#000"/>
<text x="165.21" y="288.8" textLength="13.83" lengthAdjust="spacingAndGlyphs" style="font-family:'Liberation Serif', 'Times New Roman', serif;font-size:26.6px;font-style:italic">n</text>
<text x="184.63" y="288.8" textLength="18.91" lengthAdjust="spacingAndGlyphs" style="font-family:'Liberation Serif', 'Times New Roman', serif;font-size:26.6px">=</text>
<text x="209.68" y="288.8" textLength="160.78" lengthAdjust="spacing" style="font-family:'Liberation Serif', 'Times New Roman', serif;font-size:26.6px">−1.0, 0.0, 2.0.</text>
<text x="1072.01" y="327.9" textLength="13.83" lengthAdjust="spacingAndGlyphs" style="font-family:'Liberation Serif', 'Times New Roman', serif;font-size:26.6px;font-style:italic">n</text>
<text x="1091.43" y="327.9" textLength="18.91" lengthAdjust="spacingAndGlyphs" style="font-family:'Liberation Serif', 'Times New Roman', serif;font-size:26.6px">=</text>
<text x="1116.48" y="327.9" textLength="160.78" lengthAdjust="spacing" style="font-family:'Liberation Serif', 'Times New Roman', serif;font-size:26.6px">−1.0, 0.0, 2.0.</text>
<text x="202.31" y="993.9" textLength="13.83" lengthAdjust="spacingAndGlyphs" style="font-family:'Liberation Serif', 'Times New Roman', serif;font-size:26.6px;font-style:italic">n</text>
<text x="221.73" y="993.9" textLength="18.91" lengthAdjust="spacingAndGlyphs" style="font-family:'Liberation Serif', 'Times New Roman', serif;font-size:26.6px">=</text>
<text x="246.78" y="993.9" textLength="160.78" lengthAdjust="spacing" style="font-family:'Liberation Serif', 'Times New Roman', serif;font-size:26.6px">−1.0, 0.0, 2.0.</text>
<text x="1114.61" y="981.8" textLength="13.83" lengthAdjust="spacingAndGlyphs" style="font-family:'Liberation Serif', 'Times New Roman', serif;font-size:26.6px;font-style:italic">n</text>
<text x="1134.03" y="981.8" textLength="18.91" lengthAdjust="spacingAndGlyphs" style="font-family:'Liberation Serif', 'Times New Roman', serif;font-size:26.6px">=</text>
<text x="1159.08" y="981.8" textLength="160.78" lengthAdjust="spacing" style="font-family:'Liberation Serif', 'Times New Roman', serif;font-size:26.6px">−1.0, 0.0, 2.0.</text>
<text x="162.22" y="367.5" style="font-family:'Liberation Serif', 'Times New Roman', serif;font-size:27px">Re</text>
<text x="192.17" y="371.4" style="font-family:'Liberation Serif', 'Times New Roman', serif;font-size:19px;font-style:italic">ω</text>
<text x="204.5" y="371.4" textLength="32.96" lengthAdjust="spacingAndGlyphs" style="font-family:'Liberation Serif', 'Times New Roman', serif;font-size:19px">=12</text>
<text x="238.57" y="367.5" style="font-family:'Liberation Serif', 'Times New Roman', serif;font-size:27px">,</text>
<text x="252.42" y="367.5" style="font-family:'Liberation Serif', 'Times New Roman', serif;font-size:27px">Re</text>
<text x="282.72" y="371.4" style="font-family:'Liberation Serif', 'Times New Roman', serif;font-size:19px">Ω</text>
<text x="295.53" y="371.4" textLength="24.03" lengthAdjust="spacingAndGlyphs" style="font-family:'Liberation Serif', 'Times New Roman', serif;font-size:19px">=0</text>
<text x="1095.52" y="386.3" style="font-family:'Liberation Serif', 'Times New Roman', serif;font-size:27px">Re</text>
<text x="1124.87" y="390.2" style="font-family:'Liberation Serif', 'Times New Roman', serif;font-size:19px;font-style:italic">ω</text>
<text x="1137.14" y="390.2" textLength="23.71" lengthAdjust="spacingAndGlyphs" style="font-family:'Liberation Serif', 'Times New Roman', serif;font-size:19px">=0</text>
<text x="1161.47" y="386.3" style="font-family:'Liberation Serif', 'Times New Roman', serif;font-size:27px">,</text>
<text x="1176.72" y="386.3" style="font-family:'Liberation Serif', 'Times New Roman', serif;font-size:27px">Re</text>
<text x="1206.32" y="390.2" style="font-family:'Liberation Serif', 'Times New Roman', serif;font-size:19px">Ω</text>
<text x="1219.19" y="390.2" textLength="33.5" lengthAdjust="spacingAndGlyphs" style="font-family:'Liberation Serif', 'Times New Roman', serif;font-size:19px">=12</text>
<text x="192.62" y="1064.4" style="font-family:'Liberation Serif', 'Times New Roman', serif;font-size:27px">Re</text>
<text x="222.37" y="1068.3" style="font-family:'Liberation Serif', 'Times New Roman', serif;font-size:19px;font-style:italic">ω</text>
<text x="234.78" y="1068.3" textLength="49.67" lengthAdjust="spacingAndGlyphs" style="font-family:'Liberation Serif', 'Times New Roman', serif;font-size:19px">=2463</text>
<text x="286.87" y="1064.4" style="font-family:'Liberation Serif', 'Times New Roman', serif;font-size:27px">,</text>
<text x="300.52" y="1064.4" style="font-family:'Liberation Serif', 'Times New Roman', serif;font-size:27px">Re</text>
<text x="330.72" y="1068.3" style="font-family:'Liberation Serif', 'Times New Roman', serif;font-size:19px">Ω</text>
<text x="343.7" y="1068.3" textLength="73.05" lengthAdjust="spacingAndGlyphs" style="font-family:'Liberation Serif', 'Times New Roman', serif;font-size:19px">=2438.61</text>
<text x="1133.12" y="1035.6" style="font-family:'Liberation Serif', 'Times New Roman', serif;font-size:27px">Re</text>
<text x="1163.07" y="1039.5" style="font-family:'Liberation Serif', 'Times New Roman', serif;font-size:19px;font-style:italic">ω</text>
<text x="1175.41" y="1039.5" textLength="32.75" lengthAdjust="spacingAndGlyphs" style="font-family:'Liberation Serif', 'Times New Roman', serif;font-size:19px">=12</text>
<text x="1208.67" y="1035.6" style="font-family:'Liberation Serif', 'Times New Roman', serif;font-size:27px">,</text>
<text x="1223.12" y="1035.6" style="font-family:'Liberation Serif', 'Times New Roman', serif;font-size:27px">Re</text>
<text x="1252.72" y="1039.5" style="font-family:'Liberation Serif', 'Times New Roman', serif;font-size:19px">Ω</text>
<text x="1265.57" y="1039.5" textLength="34.03" lengthAdjust="spacingAndGlyphs" style="font-family:'Liberation Serif', 'Times New Roman', serif;font-size:19px">=12</text>
<g class="thin2">
<text x="466.48" y="555.2" textLength="19.78" lengthAdjust="spacingAndGlyphs" style="font-family:'Liberation Serif', 'Times New Roman', serif;font-size:34px;font-style:italic">η</text>
<text x="1356.94" y="555.2" textLength="20.37" lengthAdjust="spacingAndGlyphs" style="font-family:'Liberation Serif', 'Times New Roman', serif;font-size:34px;font-style:italic">η</text>
<text x="1368.61" y="1248" textLength="20.72" lengthAdjust="spacingAndGlyphs" style="font-family:'Liberation Serif', 'Times New Roman', serif;font-size:34px;font-style:italic">η</text>
<text x="467.65" y="1228.5" textLength="20.13" lengthAdjust="spacingAndGlyphs" style="font-family:'Liberation Serif', 'Times New Roman', serif;font-size:34px;font-style:italic">η</text>
<text x="460.9" y="1273.8" textLength="19.42" lengthAdjust="spacingAndGlyphs" style="font-family:'Liberation Serif', 'Times New Roman', serif;font-size:34px;font-style:italic">η</text>
<text x="479.38" y="1279.6" textLength="13.33" lengthAdjust="spacingAndGlyphs" style="font-family:'Liberation Serif', 'Times New Roman', serif;font-size:23px">0</text>
</g>
<path d="M460.6,1241H493.4" stroke="#333" stroke-width="2"/>
<g transform="translate(28.9,265.7) rotate(-90)" class="thin">
<text x="-1.13" y="0" textLength="19.97" lengthAdjust="spacingAndGlyphs" style="font-family:'Liberation Serif', 'Times New Roman', serif;font-size:30.5px">Θ</text>
<text x="19.8" y="0" style="font-family:'Liberation Serif', 'Times New Roman', serif;font-size:36.5px">(</text>
<text x="32.75" y="0" textLength="18.83" lengthAdjust="spacingAndGlyphs" style="font-family:'Liberation Serif', 'Times New Roman', serif;font-size:36px;font-style:italic">η</text>
<text x="50.82" y="0" style="font-family:'Liberation Serif', 'Times New Roman', serif;font-size:36.5px">)</text>
</g>
<g transform="translate(919.5,265.7) rotate(-90)" class="thin">
<text x="-1.13" y="0" textLength="19.97" lengthAdjust="spacingAndGlyphs" style="font-family:'Liberation Serif', 'Times New Roman', serif;font-size:30.5px">Θ</text>
<text x="19.8" y="0" style="font-family:'Liberation Serif', 'Times New Roman', serif;font-size:36.5px">(</text>
<text x="32.75" y="0" textLength="18.83" lengthAdjust="spacingAndGlyphs" style="font-family:'Liberation Serif', 'Times New Roman', serif;font-size:36px;font-style:italic">η</text>
<text x="50.82" y="0" style="font-family:'Liberation Serif', 'Times New Roman', serif;font-size:36.5px">)</text>
</g>
<g transform="translate(29.6,952.5) rotate(-90)" class="thin">
<text x="-1.12" y="0" textLength="19.77" lengthAdjust="spacingAndGlyphs" style="font-family:'Liberation Serif', 'Times New Roman', serif;font-size:30.2px">Θ</text>
<text x="19.6" y="0" style="font-family:'Liberation Serif', 'Times New Roman', serif;font-size:36.13px">(</text>
<text x="32.42" y="0" textLength="18.64" lengthAdjust="spacingAndGlyphs" style="font-family:'Liberation Serif', 'Times New Roman', serif;font-size:35.64px;font-style:italic">η</text>
<text x="50.32" y="0" style="font-family:'Liberation Serif', 'Times New Roman', serif;font-size:36.13px">)</text>
</g>
<g transform="translate(931.5,958.4) rotate(-90)" class="thin">
<text x="-1.12" y="0" textLength="19.77" lengthAdjust="spacingAndGlyphs" style="font-family:'Liberation Serif', 'Times New Roman', serif;font-size:30.2px">Θ</text>
<text x="19.6" y="0" style="font-family:'Liberation Serif', 'Times New Roman', serif;font-size:36.13px">(</text>
<text x="32.42" y="0" textLength="18.64" lengthAdjust="spacingAndGlyphs" style="font-family:'Liberation Serif', 'Times New Roman', serif;font-size:35.64px;font-style:italic">η</text>
<text x="50.32" y="0" style="font-family:'Liberation Serif', 'Times New Roman', serif;font-size:36.13px">)</text>
</g>
<text x="393.99" y="619.8" style="font-size:39px;font-weight:bold">(</text>
<text x="407.68" y="621.9" style="font-size:41px;font-weight:bold">a</text>
<text x="428.73" y="619.8" style="font-size:39px;font-weight:bold">)</text>
<text x="451.5" y="615.6" style="font-size:25px;stroke:#000;stroke-width:0.8px">(</text>
<text x="461.77" y="615.6" textLength="76.19" lengthAdjust="spacingAndGlyphs" style="font-family:'Liberation Serif', 'Times New Roman', serif;font-size:25px;font-weight:bold" stroke="#000" stroke-width="0.35">case 1</text>
<text x="538.87" y="615.6" style="font-size:25px;stroke:#000;stroke-width:0.8px">)</text>
<text x="1286.59" y="619.2" style="font-size:39px;font-weight:bold">(</text>
<text x="1302.48" y="621.6" style="font-size:41px;font-weight:bold">b</text>
<text x="1323.73" y="619.2" style="font-size:39px;font-weight:bold">)</text>
<text x="1344.1" y="617.2" style="font-size:25px;stroke:#000;stroke-width:0.8px">(</text>
<text x="1354.38" y="617.2" textLength="75.3" lengthAdjust="spacingAndGlyphs" style="font-family:'Liberation Serif', 'Times New Roman', serif;font-size:25px;font-weight:bold" stroke="#000" stroke-width="0.35">case 2</text>
<text x="1430.87" y="617.2" style="font-size:25px;stroke:#000;stroke-width:0.8px">)</text>
<text x="392.09" y="1331.5" style="font-size:39px;font-weight:bold">(</text>
<text x="404.8" y="1332.7" style="font-size:41px;font-weight:bold">c</text>
<text x="424.43" y="1331.5" style="font-size:39px;font-weight:bold">)</text>
<text x="444.2" y="1329.3" style="font-size:25px;stroke:#000;stroke-width:0.8px">(</text>
<text x="454.48" y="1329.3" textLength="75.54" lengthAdjust="spacingAndGlyphs" style="font-family:'Liberation Serif', 'Times New Roman', serif;font-size:25px;font-weight:bold" stroke="#000" stroke-width="0.35">case 3</text>
<text x="531.47" y="1329.3" style="font-size:25px;stroke:#000;stroke-width:0.8px">)</text>
<text x="1317.09" y="1330.3" style="font-size:39px;font-weight:bold">(</text>
<text x="1330.14" y="1331.9" style="font-size:41px;font-weight:bold">d</text>
<text x="1353.83" y="1330.3" style="font-size:39px;font-weight:bold">)</text>
<text x="1373.6" y="1331" style="font-size:25px;stroke:#000;stroke-width:0.8px">(</text>
<text x="1383.9" y="1331" textLength="74.15" lengthAdjust="spacingAndGlyphs" style="font-family:'Liberation Serif', 'Times New Roman', serif;font-size:25px;font-weight:bold" stroke="#000" stroke-width="0.35">case 4</text>
<text x="1459.97" y="1331" style="font-size:25px;stroke:#000;stroke-width:0.8px">)</text>
</svg>
</body></html>
